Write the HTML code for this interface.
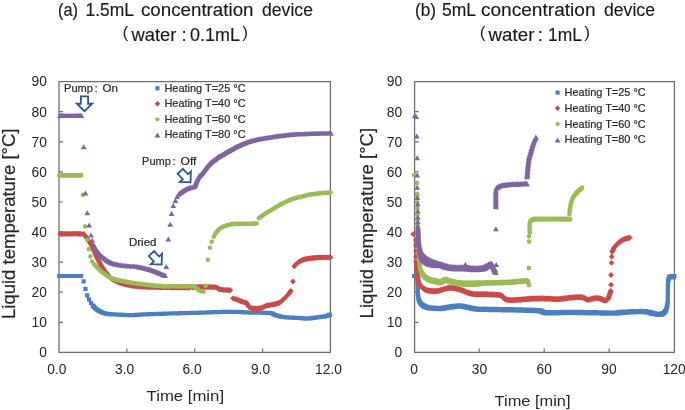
<!DOCTYPE html>
<html><head><meta charset="utf-8"><style>
html,body{margin:0;padding:0;background:#fff;}
body{width:685px;height:410px;overflow:hidden;}
svg{display:block;will-change:transform;}
text{font-family:"Liberation Sans",sans-serif;fill:#262626;}
.tt{stroke:#1a1a1a;stroke-width:0.15px;fill:#1a1a1a}
.ts{stroke:#333;stroke-width:0.22px;}
</style></head><body>
<svg width="685" height="410" viewBox="0 0 685 410">
<rect width="685" height="410" fill="#fff"/>
<rect x="59.0" y="81.6" width="271.4" height="270.79999999999995" fill="none" stroke="#717171" stroke-width="1.3"/><path d="M59.0 322.3h4M59.0 292.2h4M59.0 262.1h4M59.0 232h4M59.0 202h4M59.0 171.9h4M59.0 141.8h4M59.0 111.7h4M126.9 352.4v-4M194.7 352.4v-4M262.6 352.4v-4" stroke="#717171" stroke-width="1.2" fill="none"/><rect x="414.6" y="81.6" width="259.79999999999995" height="270.79999999999995" fill="none" stroke="#717171" stroke-width="1.3"/><path d="M414.6 322.3h4M414.6 292.2h4M414.6 262.1h4M414.6 232h4M414.6 202h4M414.6 171.9h4M414.6 141.8h4M414.6 111.7h4M479.2 352.4v-4M544.2 352.4v-4M609.2 352.4v-4" stroke="#717171" stroke-width="1.2" fill="none"/>
<path d="M57.2 273.9h4.2v4.2h-4.2zM57.9 273.9h4.2v4.2h-4.2zM58.8 273.9h4.2v4.2h-4.2zM59.8 273.9h4.2v4.2h-4.2zM61 273.9h4.2v4.2h-4.2zM62.3 273.9h4.2v4.2h-4.2zM63.7 273.9h4.2v4.2h-4.2zM65.1 273.9h4.2v4.2h-4.2zM66.6 273.9h4.2v4.2h-4.2zM68.2 273.9h4.2v4.2h-4.2zM69.7 273.9h4.2v4.2h-4.2zM71.2 273.9h4.2v4.2h-4.2zM72.6 273.9h4.2v4.2h-4.2zM74 273.9h4.2v4.2h-4.2zM75.3 273.9h4.2v4.2h-4.2zM76.5 273.9h4.2v4.2h-4.2zM77.5 273.9h4.2v4.2h-4.2zM78.4 273.9h4.2v4.2h-4.2zM79.1 273.9h4.2v4.2h-4.2zM81.5 279.3h4.2v4.2h-4.2zM83.4 286.7h4.2v4.2h-4.2zM85.1 293.2h4.2v4.2h-4.2zM86.9 297.4h4.2v4.2h-4.2zM88.9 300.9h4.2v4.2h-4.2zM90.7 303.5h4.2v4.2h-4.2zM91.2 304h4.2v4.2h-4.2zM91.9 304.8h4.2v4.2h-4.2zM92.8 305.7h4.2v4.2h-4.2zM93.7 306.6h4.2v4.2h-4.2zM94.6 307.4h4.2v4.2h-4.2zM95.5 308h4.2v4.2h-4.2zM96.4 308.6h4.2v4.2h-4.2zM97.4 309.1h4.2v4.2h-4.2zM98.4 309.6h4.2v4.2h-4.2zM99.5 310.1h4.2v4.2h-4.2zM100.6 310.5h4.2v4.2h-4.2zM101.7 310.9h4.2v4.2h-4.2zM102.9 311.3h4.2v4.2h-4.2zM104.1 311.6h4.2v4.2h-4.2zM105.3 311.8h4.2v4.2h-4.2zM106.4 312h4.2v4.2h-4.2zM107.4 312.1h4.2v4.2h-4.2zM108.5 312.1h4.2v4.2h-4.2zM109.7 312.2h4.2v4.2h-4.2zM110.9 312.2h4.2v4.2h-4.2zM112.2 312.3h4.2v4.2h-4.2zM113.3 312.4h4.2v4.2h-4.2zM114.4 312.4h4.2v4.2h-4.2zM115.6 312.5h4.2v4.2h-4.2zM116.9 312.6h4.2v4.2h-4.2zM118.1 312.6h4.2v4.2h-4.2zM119.4 312.7h4.2v4.2h-4.2zM120.7 312.7h4.2v4.2h-4.2zM121.9 312.8h4.2v4.2h-4.2zM123.1 312.9h4.2v4.2h-4.2zM124.4 312.9h4.2v4.2h-4.2zM125.7 313h4.2v4.2h-4.2zM127 313h4.2v4.2h-4.2zM128.3 313.1h4.2v4.2h-4.2zM129.5 313.1h4.2v4.2h-4.2zM130.6 313.1h4.2v4.2h-4.2zM131.7 313.1h4.2v4.2h-4.2zM132.8 313h4.2v4.2h-4.2zM133.3 312.9h4.2v4.2h-4.2zM133.9 312.8h4.2v4.2h-4.2zM135.2 312.7h4.2v4.2h-4.2zM137.9 312.5h4.2v4.2h-4.2zM138.7 312.5h4.2v4.2h-4.2zM139.5 312.4h4.2v4.2h-4.2zM140.4 312.4h4.2v4.2h-4.2zM141.4 312.3h4.2v4.2h-4.2zM142.4 312.3h4.2v4.2h-4.2zM143.5 312.3h4.2v4.2h-4.2zM144.6 312.2h4.2v4.2h-4.2zM145.7 312.2h4.2v4.2h-4.2zM146.9 312.1h4.2v4.2h-4.2zM148.2 312.1h4.2v4.2h-4.2zM149.5 312h4.2v4.2h-4.2zM150.8 312h4.2v4.2h-4.2zM152.1 311.9h4.2v4.2h-4.2zM153.4 311.9h4.2v4.2h-4.2zM154.8 311.8h4.2v4.2h-4.2zM156.1 311.8h4.2v4.2h-4.2zM157.5 311.7h4.2v4.2h-4.2zM158.8 311.7h4.2v4.2h-4.2zM160.2 311.7h4.2v4.2h-4.2zM161.5 311.6h4.2v4.2h-4.2zM162.8 311.6h4.2v4.2h-4.2zM164.1 311.5h4.2v4.2h-4.2zM165.4 311.5h4.2v4.2h-4.2zM166.7 311.4h4.2v4.2h-4.2zM167.9 311.4h4.2v4.2h-4.2zM169.1 311.4h4.2v4.2h-4.2zM170.3 311.3h4.2v4.2h-4.2zM171.6 311.3h4.2v4.2h-4.2zM172.8 311.3h4.2v4.2h-4.2zM174.1 311.2h4.2v4.2h-4.2zM175.3 311.2h4.2v4.2h-4.2zM176.6 311.2h4.2v4.2h-4.2zM177.8 311.1h4.2v4.2h-4.2zM179.1 311.1h4.2v4.2h-4.2zM180.4 311.1h4.2v4.2h-4.2zM181.6 311h4.2v4.2h-4.2zM182.9 311h4.2v4.2h-4.2zM184.1 311h4.2v4.2h-4.2zM185.4 310.9h4.2v4.2h-4.2zM186.6 310.9h4.2v4.2h-4.2zM187.8 310.9h4.2v4.2h-4.2zM189 310.8h4.2v4.2h-4.2zM190.2 310.8h4.2v4.2h-4.2zM191.4 310.8h4.2v4.2h-4.2zM192.5 310.7h4.2v4.2h-4.2zM193.7 310.7h4.2v4.2h-4.2zM194.8 310.7h4.2v4.2h-4.2zM195.8 310.7h4.2v4.2h-4.2zM196.9 310.6h4.2v4.2h-4.2zM197.9 310.6h4.2v4.2h-4.2zM199.3 310.6h4.2v4.2h-4.2zM200.7 310.5h4.2v4.2h-4.2zM202.1 310.5h4.2v4.2h-4.2zM203.4 310.4h4.2v4.2h-4.2zM204.7 310.4h4.2v4.2h-4.2zM205.9 310.3h4.2v4.2h-4.2zM207.1 310.3h4.2v4.2h-4.2zM208.3 310.2h4.2v4.2h-4.2zM209.4 310.2h4.2v4.2h-4.2zM210.5 310.1h4.2v4.2h-4.2zM211.6 310.1h4.2v4.2h-4.2zM212.7 310.1h4.2v4.2h-4.2zM213.7 310h4.2v4.2h-4.2zM214.8 310h4.2v4.2h-4.2zM215.8 310h4.2v4.2h-4.2zM216.9 309.9h4.2v4.2h-4.2zM217.9 309.9h4.2v4.2h-4.2zM219.2 309.9h4.2v4.2h-4.2zM220.5 309.8h4.2v4.2h-4.2zM221.7 309.8h4.2v4.2h-4.2zM222.9 309.8h4.2v4.2h-4.2zM224 309.7h4.2v4.2h-4.2zM225.2 309.7h4.2v4.2h-4.2zM226.3 309.7h4.2v4.2h-4.2zM227.4 309.7h4.2v4.2h-4.2zM228.4 309.7h4.2v4.2h-4.2zM229.5 309.7h4.2v4.2h-4.2zM230.6 309.7h4.2v4.2h-4.2zM231.8 309.7h4.2v4.2h-4.2zM232.9 309.7h4.2v4.2h-4.2zM234 309.7h4.2v4.2h-4.2zM235.2 309.8h4.2v4.2h-4.2zM236.3 309.8h4.2v4.2h-4.2zM237.4 309.9h4.2v4.2h-4.2zM238.4 310h4.2v4.2h-4.2zM239.5 310h4.2v4.2h-4.2zM240.6 310.1h4.2v4.2h-4.2zM241.8 310.2h4.2v4.2h-4.2zM242.9 310.3h4.2v4.2h-4.2zM244.1 310.3h4.2v4.2h-4.2zM245.3 310.4h4.2v4.2h-4.2zM246.6 310.4h4.2v4.2h-4.2zM247.9 310.5h4.2v4.2h-4.2zM249 310.5h4.2v4.2h-4.2zM250.1 310.6h4.2v4.2h-4.2zM251.3 310.6h4.2v4.2h-4.2zM252.6 310.6h4.2v4.2h-4.2zM253.9 310.6h4.2v4.2h-4.2zM255.2 310.6h4.2v4.2h-4.2zM256.5 310.6h4.2v4.2h-4.2zM257.9 310.6h4.2v4.2h-4.2zM259.2 310.6h4.2v4.2h-4.2zM260.5 310.6h4.2v4.2h-4.2zM261.7 310.7h4.2v4.2h-4.2zM263 310.7h4.2v4.2h-4.2zM264.1 310.7h4.2v4.2h-4.2zM265.2 310.7h4.2v4.2h-4.2zM266.2 310.8h4.2v4.2h-4.2zM267.1 310.8h4.2v4.2h-4.2zM267.9 310.9h4.2v4.2h-4.2zM270.1 311.3h4.2v4.2h-4.2zM271 311.8h4.2v4.2h-4.2zM271.6 312.3h4.2v4.2h-4.2zM272.9 312.9h4.2v4.2h-4.2zM273.8 313.1h4.2v4.2h-4.2zM274.7 313.4h4.2v4.2h-4.2zM275.7 313.7h4.2v4.2h-4.2zM276.7 313.9h4.2v4.2h-4.2zM277.8 314.2h4.2v4.2h-4.2zM279 314.5h4.2v4.2h-4.2zM280.2 314.7h4.2v4.2h-4.2zM281.5 314.9h4.2v4.2h-4.2zM282.9 315.1h4.2v4.2h-4.2zM283.9 315.2h4.2v4.2h-4.2zM285 315.3h4.2v4.2h-4.2zM286.2 315.4h4.2v4.2h-4.2zM287.4 315.5h4.2v4.2h-4.2zM288.7 315.5h4.2v4.2h-4.2zM289.9 315.6h4.2v4.2h-4.2zM291.2 315.6h4.2v4.2h-4.2zM292.5 315.7h4.2v4.2h-4.2zM293.7 315.7h4.2v4.2h-4.2zM294.9 315.8h4.2v4.2h-4.2zM296 315.8h4.2v4.2h-4.2zM297 315.8h4.2v4.2h-4.2zM297.9 315.9h4.2v4.2h-4.2zM299.5 316h4.2v4.2h-4.2zM300.8 316.2h4.2v4.2h-4.2zM301.8 316.3h4.2v4.2h-4.2zM302.8 316.4h4.2v4.2h-4.2zM303.8 316.5h4.2v4.2h-4.2zM304.9 316.5h4.2v4.2h-4.2zM306 316.4h4.2v4.2h-4.2zM307.1 316.3h4.2v4.2h-4.2zM308.2 316.2h4.2v4.2h-4.2zM309.3 316h4.2v4.2h-4.2zM310.4 315.8h4.2v4.2h-4.2zM311.6 315.7h4.2v4.2h-4.2zM312.9 315.5h4.2v4.2h-4.2zM314.1 315.4h4.2v4.2h-4.2zM315.4 315.2h4.2v4.2h-4.2zM316.7 315.1h4.2v4.2h-4.2zM318.1 314.9h4.2v4.2h-4.2zM319.4 314.8h4.2v4.2h-4.2zM320.7 314.6h4.2v4.2h-4.2zM321.9 314.5h4.2v4.2h-4.2zM322.9 314.3h4.2v4.2h-4.2zM324.6 313.8h4.2v4.2h-4.2zM326 313.3h4.2v4.2h-4.2zM327.1 312.8h4.2v4.2h-4.2zM327.9 312.5h4.2v4.2h-4.2zM412 273.9h4.2v4.2h-4.2zM415.3 276.3h4.2v4.2h-4.2zM415.3 278h4.2v4.2h-4.2zM415.3 277.3h4.2v4.2h-4.2zM415.3 279.2h4.2v4.2h-4.2zM415.4 278.7h4.2v4.2h-4.2zM415.4 280.7h4.2v4.2h-4.2zM415.4 280.4h4.2v4.2h-4.2zM415.4 282.5h4.2v4.2h-4.2zM415.4 282.2h4.2v4.2h-4.2zM415.5 284.3h4.2v4.2h-4.2zM415.5 284.1h4.2v4.2h-4.2zM415.5 286.1h4.2v4.2h-4.2zM415.5 285.8h4.2v4.2h-4.2zM415.6 287.8h4.2v4.2h-4.2zM415.6 287.3h4.2v4.2h-4.2zM415.6 289.4h4.2v4.2h-4.2zM415.7 289.1h4.2v4.2h-4.2zM415.7 291.2h4.2v4.2h-4.2zM415.8 290.9h4.2v4.2h-4.2zM415.9 292.9h4.2v4.2h-4.2zM415.9 292.5h4.2v4.2h-4.2zM416 294.4h4.2v4.2h-4.2zM416.1 294h4.2v4.2h-4.2zM416.2 295.8h4.2v4.2h-4.2zM416.3 295.3h4.2v4.2h-4.2zM416.5 297.5h4.2v4.2h-4.2zM416.8 297.2h4.2v4.2h-4.2zM417.1 299.2h4.2v4.2h-4.2zM417.4 298.7h4.2v4.2h-4.2zM417.7 300.6h4.2v4.2h-4.2zM418.1 300h4.2v4.2h-4.2zM418.6 301.9h4.2v4.2h-4.2zM419 301.3h4.2v4.2h-4.2zM419.6 303h4.2v4.2h-4.2zM420.2 302.3h4.2v4.2h-4.2zM420.9 304h4.2v4.2h-4.2zM421.5 303.1h4.2v4.2h-4.2zM422.2 304.7h4.2v4.2h-4.2zM422.9 303.8h4.2v4.2h-4.2zM423.6 305.3h4.2v4.2h-4.2zM424.4 304.4h4.2v4.2h-4.2zM425.1 305.9h4.2v4.2h-4.2zM425.9 304.9h4.2v4.2h-4.2zM426.7 306.3h4.2v4.2h-4.2zM427.4 305.2h4.2v4.2h-4.2zM428.2 306.5h4.2v4.2h-4.2zM428.9 305.3h4.2v4.2h-4.2zM429.8 306.6h4.2v4.2h-4.2zM430.6 305.4h4.2v4.2h-4.2zM431.5 306.7h4.2v4.2h-4.2zM432.2 305.5h4.2v4.2h-4.2zM433 306.8h4.2v4.2h-4.2zM433.7 305.7h4.2v4.2h-4.2zM434.5 306.9h4.2v4.2h-4.2zM435.4 305.7h4.2v4.2h-4.2zM436.2 307h4.2v4.2h-4.2zM437.1 305.8h4.2v4.2h-4.2zM438 307h4.2v4.2h-4.2zM438.9 305.7h4.2v4.2h-4.2zM439.6 306.8h4.2v4.2h-4.2zM440.4 305.6h4.2v4.2h-4.2zM441.2 306.7h4.2v4.2h-4.2zM442 305.3h4.2v4.2h-4.2zM442.8 306.4h4.2v4.2h-4.2zM443.6 305.1h4.2v4.2h-4.2zM444.5 306.1h4.2v4.2h-4.2zM445.3 304.8h4.2v4.2h-4.2zM446.1 305.9h4.2v4.2h-4.2zM447 304.5h4.2v4.2h-4.2zM447.8 305.6h4.2v4.2h-4.2zM448.6 304.3h4.2v4.2h-4.2zM449.4 305.4h4.2v4.2h-4.2zM450.2 304.1h4.2v4.2h-4.2zM451 305.2h4.2v4.2h-4.2zM451.8 303.8h4.2v4.2h-4.2zM452.6 304.9h4.2v4.2h-4.2zM453.4 303.6h4.2v4.2h-4.2zM454.2 304.7h4.2v4.2h-4.2zM454.9 303.4h4.2v4.2h-4.2zM455.7 304.6h4.2v4.2h-4.2zM456.4 303.3h4.2v4.2h-4.2zM457.2 304.5h4.2v4.2h-4.2zM457.9 303.3h4.2v4.2h-4.2zM458.7 304.5h4.2v4.2h-4.2zM459.6 303.4h4.2v4.2h-4.2zM460.4 304.7h4.2v4.2h-4.2zM461.2 303.7h4.2v4.2h-4.2zM461.9 305h4.2v4.2h-4.2zM462.7 304h4.2v4.2h-4.2zM463.5 305.4h4.2v4.2h-4.2zM464.2 304.4h4.2v4.2h-4.2zM465 305.7h4.2v4.2h-4.2zM465.7 304.7h4.2v4.2h-4.2zM466.5 306.1h4.2v4.2h-4.2zM467.2 305h4.2v4.2h-4.2zM468 306.4h4.2v4.2h-4.2zM468.7 305.4h4.2v4.2h-4.2zM469.4 306.8h4.2v4.2h-4.2zM470.2 305.8h4.2v4.2h-4.2zM471 307.1h4.2v4.2h-4.2zM471.9 306.1h4.2v4.2h-4.2zM472.9 307.4h4.2v4.2h-4.2zM473.5 306.3h4.2v4.2h-4.2zM474.2 307.5h4.2v4.2h-4.2zM474.8 306.4h4.2v4.2h-4.2zM475.5 307.6h4.2v4.2h-4.2zM476.1 306.4h4.2v4.2h-4.2zM476.8 307.7h4.2v4.2h-4.2zM477.5 306.5h4.2v4.2h-4.2zM478.2 307.7h4.2v4.2h-4.2zM479 306.6h4.2v4.2h-4.2zM479.9 307.8h4.2v4.2h-4.2zM480.8 306.6h4.2v4.2h-4.2zM481.7 307.8h4.2v4.2h-4.2zM482.7 306.6h4.2v4.2h-4.2zM483.8 307.9h4.2v4.2h-4.2zM485 306.7h4.2v4.2h-4.2zM485.6 307.9h4.2v4.2h-4.2zM486.2 306.7h4.2v4.2h-4.2zM486.9 307.9h4.2v4.2h-4.2zM487.6 306.8h4.2v4.2h-4.2zM488.3 308h4.2v4.2h-4.2zM489 306.8h4.2v4.2h-4.2zM489.7 308h4.2v4.2h-4.2zM490.5 306.8h4.2v4.2h-4.2zM491.2 308h4.2v4.2h-4.2zM492 306.8h4.2v4.2h-4.2zM492.8 308h4.2v4.2h-4.2zM493.6 306.8h4.2v4.2h-4.2zM494.5 308.1h4.2v4.2h-4.2zM495.3 306.9h4.2v4.2h-4.2zM496.1 308.1h4.2v4.2h-4.2zM497 306.9h4.2v4.2h-4.2zM497.8 308.1h4.2v4.2h-4.2zM498.7 306.9h4.2v4.2h-4.2zM499.5 308.1h4.2v4.2h-4.2zM500.4 306.9h4.2v4.2h-4.2zM501.2 308.2h4.2v4.2h-4.2zM502.1 307h4.2v4.2h-4.2zM502.9 308.2h4.2v4.2h-4.2zM503.8 307h4.2v4.2h-4.2zM504.6 308.2h4.2v4.2h-4.2zM505.5 307h4.2v4.2h-4.2zM506.3 308.2h4.2v4.2h-4.2zM507.1 307h4.2v4.2h-4.2zM507.9 308.3h4.2v4.2h-4.2zM508.7 307.1h4.2v4.2h-4.2zM509.5 308.3h4.2v4.2h-4.2zM510.3 307.1h4.2v4.2h-4.2zM511.2 308.3h4.2v4.2h-4.2zM512.1 307.2h4.2v4.2h-4.2zM512.9 308.4h4.2v4.2h-4.2zM513.8 307.2h4.2v4.2h-4.2zM514.7 308.4h4.2v4.2h-4.2zM515.6 307.3h4.2v4.2h-4.2zM516.5 308.5h4.2v4.2h-4.2zM517.4 307.3h4.2v4.2h-4.2zM518.3 308.5h4.2v4.2h-4.2zM519.2 307.3h4.2v4.2h-4.2zM520.1 308.6h4.2v4.2h-4.2zM521 307.4h4.2v4.2h-4.2zM521.9 308.6h4.2v4.2h-4.2zM522.8 307.5h4.2v4.2h-4.2zM523.7 308.7h4.2v4.2h-4.2zM524.5 307.5h4.2v4.2h-4.2zM525.4 308.7h4.2v4.2h-4.2zM526.2 307.6h4.2v4.2h-4.2zM527 308.8h4.2v4.2h-4.2zM527.7 307.6h4.2v4.2h-4.2zM528.5 308.8h4.2v4.2h-4.2zM529.2 307.7h4.2v4.2h-4.2zM529.9 308.9h4.2v4.2h-4.2zM530.6 307.7h4.2v4.2h-4.2zM531.2 308.9h4.2v4.2h-4.2zM531.8 307.8h4.2v4.2h-4.2zM532.4 309h4.2v4.2h-4.2zM532.9 307.8h4.2v4.2h-4.2zM534.7 309.1h4.2v4.2h-4.2zM535.8 307.9h4.2v4.2h-4.2zM536.6 309.2h4.2v4.2h-4.2zM537.1 308.1h4.2v4.2h-4.2zM537.5 309.4h4.2v4.2h-4.2zM538 308.3h4.2v4.2h-4.2zM538.7 309.6h4.2v4.2h-4.2zM539.3 308.6h4.2v4.2h-4.2zM539.8 310h4.2v4.2h-4.2zM540.1 309h4.2v4.2h-4.2zM540.6 310.5h4.2v4.2h-4.2zM541.1 309.6h4.2v4.2h-4.2zM541.9 311h4.2v4.2h-4.2zM543 310h4.2v4.2h-4.2zM544.6 311.3h4.2v4.2h-4.2zM545.1 310.1h4.2v4.2h-4.2zM545.7 311.3h4.2v4.2h-4.2zM546.3 310.1h4.2v4.2h-4.2zM546.9 311.3h4.2v4.2h-4.2zM547.6 310.1h4.2v4.2h-4.2zM548.3 311.3h4.2v4.2h-4.2zM549 310.1h4.2v4.2h-4.2zM549.8 311.3h4.2v4.2h-4.2zM550.5 310.1h4.2v4.2h-4.2zM551.3 311.3h4.2v4.2h-4.2zM552.2 310.1h4.2v4.2h-4.2zM553 311.2h4.2v4.2h-4.2zM553.9 310h4.2v4.2h-4.2zM554.7 311.2h4.2v4.2h-4.2zM555.6 310h4.2v4.2h-4.2zM556.5 311.1h4.2v4.2h-4.2zM557.4 309.9h4.2v4.2h-4.2zM558.3 311.1h4.2v4.2h-4.2zM559.2 309.9h4.2v4.2h-4.2zM560.1 311h4.2v4.2h-4.2zM561 309.8h4.2v4.2h-4.2zM561.9 311h4.2v4.2h-4.2zM562.8 309.8h4.2v4.2h-4.2zM563.7 310.9h4.2v4.2h-4.2zM564.5 309.7h4.2v4.2h-4.2zM565.4 310.9h4.2v4.2h-4.2zM566.3 309.7h4.2v4.2h-4.2zM567.1 310.9h4.2v4.2h-4.2zM567.9 309.7h4.2v4.2h-4.2zM568.7 310.9h4.2v4.2h-4.2zM569.5 309.7h4.2v4.2h-4.2zM570.3 310.9h4.2v4.2h-4.2zM571.1 309.7h4.2v4.2h-4.2zM572 310.9h4.2v4.2h-4.2zM572.8 309.7h4.2v4.2h-4.2zM573.6 310.9h4.2v4.2h-4.2zM574.4 309.8h4.2v4.2h-4.2zM575.2 311h4.2v4.2h-4.2zM576.1 309.8h4.2v4.2h-4.2zM576.9 311h4.2v4.2h-4.2zM577.7 309.8h4.2v4.2h-4.2zM578.5 311h4.2v4.2h-4.2zM579.3 309.8h4.2v4.2h-4.2zM580.2 311.1h4.2v4.2h-4.2zM581 309.9h4.2v4.2h-4.2zM581.8 311.1h4.2v4.2h-4.2zM582.6 309.9h4.2v4.2h-4.2zM583.4 311.1h4.2v4.2h-4.2zM584.2 310h4.2v4.2h-4.2zM585 311.2h4.2v4.2h-4.2zM585.8 310h4.2v4.2h-4.2zM586.6 311.2h4.2v4.2h-4.2zM587.4 310h4.2v4.2h-4.2zM588.2 311.2h4.2v4.2h-4.2zM589 310.1h4.2v4.2h-4.2zM589.8 311.3h4.2v4.2h-4.2zM590.5 310.1h4.2v4.2h-4.2zM591.3 311.3h4.2v4.2h-4.2zM592.2 310.1h4.2v4.2h-4.2zM593 311.3h4.2v4.2h-4.2zM593.9 310.1h4.2v4.2h-4.2zM594.8 311.4h4.2v4.2h-4.2zM595.7 310.2h4.2v4.2h-4.2zM596.5 311.4h4.2v4.2h-4.2zM597.4 310.2h4.2v4.2h-4.2zM598.3 311.4h4.2v4.2h-4.2zM599.2 310.3h4.2v4.2h-4.2zM600.1 311.5h4.2v4.2h-4.2zM600.9 310.3h4.2v4.2h-4.2zM601.8 311.5h4.2v4.2h-4.2zM602.6 310.3h4.2v4.2h-4.2zM603.5 311.5h4.2v4.2h-4.2zM604.3 310.4h4.2v4.2h-4.2zM605.1 311.6h4.2v4.2h-4.2zM605.9 310.4h4.2v4.2h-4.2zM606.7 311.6h4.2v4.2h-4.2zM607.5 310.4h4.2v4.2h-4.2zM608.3 311.6h4.2v4.2h-4.2zM609 310.4h4.2v4.2h-4.2zM609.7 311.6h4.2v4.2h-4.2zM610.4 310.4h4.2v4.2h-4.2zM611.1 311.6h4.2v4.2h-4.2zM611.7 310.4h4.2v4.2h-4.2zM612.3 311.6h4.2v4.2h-4.2zM613.4 310.4h4.2v4.2h-4.2zM614.3 311.5h4.2v4.2h-4.2zM615.2 310.3h4.2v4.2h-4.2zM615.9 311.4h4.2v4.2h-4.2zM616.5 310.1h4.2v4.2h-4.2zM617.1 311.2h4.2v4.2h-4.2zM617.7 310h4.2v4.2h-4.2zM618.3 311.1h4.2v4.2h-4.2zM618.9 309.8h4.2v4.2h-4.2zM619.6 310.9h4.2v4.2h-4.2zM620.3 309.6h4.2v4.2h-4.2zM621.2 310.8h4.2v4.2h-4.2zM622.3 309.5h4.2v4.2h-4.2zM622.9 310.7h4.2v4.2h-4.2zM623.6 309.4h4.2v4.2h-4.2zM624.3 310.6h4.2v4.2h-4.2zM625.1 309.4h4.2v4.2h-4.2zM625.9 310.5h4.2v4.2h-4.2zM626.7 309.3h4.2v4.2h-4.2zM627.6 310.4h4.2v4.2h-4.2zM628.5 309.2h4.2v4.2h-4.2zM629.3 310.3h4.2v4.2h-4.2zM630.2 309.1h4.2v4.2h-4.2zM631.2 310.3h4.2v4.2h-4.2zM632.1 309h4.2v4.2h-4.2zM633 310.2h4.2v4.2h-4.2zM633.9 309h4.2v4.2h-4.2zM634.8 310.1h4.2v4.2h-4.2zM635.7 308.9h4.2v4.2h-4.2zM636.5 310.1h4.2v4.2h-4.2zM637.4 308.9h4.2v4.2h-4.2zM638.2 310.1h4.2v4.2h-4.2zM639 308.8h4.2v4.2h-4.2zM639.8 310h4.2v4.2h-4.2zM640.5 308.9h4.2v4.2h-4.2zM641.2 310.1h4.2v4.2h-4.2zM641.8 308.9h4.2v4.2h-4.2zM642.9 310.2h4.2v4.2h-4.2zM643.9 309.1h4.2v4.2h-4.2zM644.8 310.4h4.2v4.2h-4.2zM645.6 309.4h4.2v4.2h-4.2zM646.4 310.7h4.2v4.2h-4.2zM647.1 309.7h4.2v4.2h-4.2zM647.8 311.1h4.2v4.2h-4.2zM648.5 310.1h4.2v4.2h-4.2zM649.1 311.5h4.2v4.2h-4.2zM649.7 310.5h4.2v4.2h-4.2zM650.3 311.8h4.2v4.2h-4.2zM651 310.8h4.2v4.2h-4.2zM651.6 312.1h4.2v4.2h-4.2zM652.5 311.1h4.2v4.2h-4.2zM653.4 312.4h4.2v4.2h-4.2zM654.3 311.4h4.2v4.2h-4.2zM655.2 312.7h4.2v4.2h-4.2zM656 311.6h4.2v4.2h-4.2zM656.8 312.9h4.2v4.2h-4.2zM657.5 311.7h4.2v4.2h-4.2zM658.2 312.9h4.2v4.2h-4.2zM658.9 311.6h4.2v4.2h-4.2zM659.7 312.6h4.2v4.2h-4.2zM660.5 311.1h4.2v4.2h-4.2zM661.2 311.9h4.2v4.2h-4.2zM661.8 310.3h4.2v4.2h-4.2zM662.4 310.9h4.2v4.2h-4.2zM662.9 309.1h4.2v4.2h-4.2zM663.4 309.5h4.2v4.2h-4.2zM663.7 307.7h4.2v4.2h-4.2zM664 308.2h4.2v4.2h-4.2zM664.3 306.3h4.2v4.2h-4.2zM664.5 306.8h4.2v4.2h-4.2zM664.7 304.8h4.2v4.2h-4.2zM664.9 305.1h4.2v4.2h-4.2zM665.1 303.1h4.2v4.2h-4.2zM665.2 303.4h4.2v4.2h-4.2zM665.4 301.2h4.2v4.2h-4.2zM665.5 301.5h4.2v4.2h-4.2zM665.6 299.6h4.2v4.2h-4.2zM665.6 300.1h4.2v4.2h-4.2zM665.7 298.1h4.2v4.2h-4.2zM665.7 298.6h4.2v4.2h-4.2zM665.7 296.6h4.2v4.2h-4.2zM665.7 297h4.2v4.2h-4.2zM665.7 295h4.2v4.2h-4.2zM665.7 295.4h4.2v4.2h-4.2zM665.7 293.4h4.2v4.2h-4.2zM665.7 293.7h4.2v4.2h-4.2zM665.7 291.7h4.2v4.2h-4.2zM665.7 292.1h4.2v4.2h-4.2zM665.7 290.1h4.2v4.2h-4.2zM665.7 290.5h4.2v4.2h-4.2zM665.7 288.5h4.2v4.2h-4.2zM665.7 288.9h4.2v4.2h-4.2zM665.8 286.8h4.2v4.2h-4.2zM665.8 287.1h4.2v4.2h-4.2zM665.8 285.1h4.2v4.2h-4.2zM665.8 285.4h4.2v4.2h-4.2zM665.8 283.3h4.2v4.2h-4.2zM665.9 283.7h4.2v4.2h-4.2zM665.9 281.7h4.2v4.2h-4.2zM665.9 282.1h4.2v4.2h-4.2zM666 280.2h4.2v4.2h-4.2zM666 280.7h4.2v4.2h-4.2zM666 278.9h4.2v4.2h-4.2zM666.1 279.5h4.2v4.2h-4.2zM666.3 277h4.2v4.2h-4.2zM666.5 277.3h4.2v4.2h-4.2zM666.8 275.5h4.2v4.2h-4.2zM667 276.2h4.2v4.2h-4.2zM667.4 274.6h4.2v4.2h-4.2zM668.1 275.3h4.2v4.2h-4.2zM669 274h4.2v4.2h-4.2zM669.9 275.2h4.2v4.2h-4.2zM670.8 274h4.2v4.2h-4.2zM671.7 275.2h4.2v4.2h-4.2zM672.3 274h4.2v4.2h-4.2z" fill="#4a7fc2"/><path d="M60 231l2.9 2.9-2.9 2.9-2.9-2.9 zM60.6 230.9l2.9 2.9-2.9 2.9-2.9-2.9 zM61.4 230.9l2.9 2.9-2.9 2.9-2.9-2.9 zM62.3 230.9l2.9 2.9-2.9 2.9-2.9-2.9 zM63.3 230.9l2.9 2.9-2.9 2.9-2.9-2.9 zM64.5 230.9l2.9 2.9-2.9 2.9-2.9-2.9 zM65.7 230.9l2.9 2.9-2.9 2.9-2.9-2.9 zM66.9 230.9l2.9 2.9-2.9 2.9-2.9-2.9 zM68.3 230.9l2.9 2.9-2.9 2.9-2.9-2.9 zM69.6 230.9l2.9 2.9-2.9 2.9-2.9-2.9 zM71 230.9l2.9 2.9-2.9 2.9-2.9-2.9 zM72.3 230.9l2.9 2.9-2.9 2.9-2.9-2.9 zM73.6 230.8l2.9 2.9-2.9 2.9-2.9-2.9 zM74.9 230.8l2.9 2.9-2.9 2.9-2.9-2.9 zM76.2 230.8l2.9 2.9-2.9 2.9-2.9-2.9 zM77.4 230.9l2.9 2.9-2.9 2.9-2.9-2.9 zM78.4 230.9l2.9 2.9-2.9 2.9-2.9-2.9 zM79.4 230.9l2.9 2.9-2.9 2.9-2.9-2.9 zM80.3 230.9l2.9 2.9-2.9 2.9-2.9-2.9 zM81 231l2.9 2.9-2.9 2.9-2.9-2.9 zM83.1 231.1l2.9 2.9-2.9 2.9-2.9-2.9 zM83.9 231.3l2.9 2.9-2.9 2.9-2.9-2.9 zM84.1 231.7l2.9 2.9-2.9 2.9-2.9-2.9 zM84.6 232.3l2.9 2.9-2.9 2.9-2.9-2.9 zM85.2 233l2.9 2.9-2.9 2.9-2.9-2.9 zM85.9 233.8l2.9 2.9-2.9 2.9-2.9-2.9 zM86.5 234.8l2.9 2.9-2.9 2.9-2.9-2.9 zM87.1 235.7l2.9 2.9-2.9 2.9-2.9-2.9 zM87.7 236.7l2.9 2.9-2.9 2.9-2.9-2.9 zM88.3 237.6l2.9 2.9-2.9 2.9-2.9-2.9 zM88.9 238.5l2.9 2.9-2.9 2.9-2.9-2.9 zM89.6 239.4l2.9 2.9-2.9 2.9-2.9-2.9 zM90.2 240.2l2.9 2.9-2.9 2.9-2.9-2.9 zM90.7 241.1l2.9 2.9-2.9 2.9-2.9-2.9 zM91.2 242l2.9 2.9-2.9 2.9-2.9-2.9 zM91.7 243l2.9 2.9-2.9 2.9-2.9-2.9 zM92.2 244.1l2.9 2.9-2.9 2.9-2.9-2.9 zM92.7 245.2l2.9 2.9-2.9 2.9-2.9-2.9 zM93.1 246.2l2.9 2.9-2.9 2.9-2.9-2.9 zM93.6 247l2.9 2.9-2.9 2.9-2.9-2.9 zM94 247.9l2.9 2.9-2.9 2.9-2.9-2.9 zM94.4 248.7l2.9 2.9-2.9 2.9-2.9-2.9 zM94.9 249.7l2.9 2.9-2.9 2.9-2.9-2.9 zM95.3 250.5l2.9 2.9-2.9 2.9-2.9-2.9 zM95.6 251.5l2.9 2.9-2.9 2.9-2.9-2.9 zM96 252.4l2.9 2.9-2.9 2.9-2.9-2.9 zM96.4 253.4l2.9 2.9-2.9 2.9-2.9-2.9 zM96.8 254.3l2.9 2.9-2.9 2.9-2.9-2.9 zM97.3 255.4l2.9 2.9-2.9 2.9-2.9-2.9 zM97.9 256.5l2.9 2.9-2.9 2.9-2.9-2.9 zM98.4 257.5l2.9 2.9-2.9 2.9-2.9-2.9 zM99 258.5l2.9 2.9-2.9 2.9-2.9-2.9 zM99.5 259.6l2.9 2.9-2.9 2.9-2.9-2.9 zM100.1 260.6l2.9 2.9-2.9 2.9-2.9-2.9 zM100.6 261.7l2.9 2.9-2.9 2.9-2.9-2.9 zM101.2 262.8l2.9 2.9-2.9 2.9-2.9-2.9 zM101.7 263.6l2.9 2.9-2.9 2.9-2.9-2.9 zM102.3 264.5l2.9 2.9-2.9 2.9-2.9-2.9 zM102.9 265.4l2.9 2.9-2.9 2.9-2.9-2.9 zM103.5 266.2l2.9 2.9-2.9 2.9-2.9-2.9 zM104.1 267l2.9 2.9-2.9 2.9-2.9-2.9 zM104.8 268l2.9 2.9-2.9 2.9-2.9-2.9 zM105.5 268.8l2.9 2.9-2.9 2.9-2.9-2.9 zM106.2 269.7l2.9 2.9-2.9 2.9-2.9-2.9 zM107 270.6l2.9 2.9-2.9 2.9-2.9-2.9 zM107.6 271.4l2.9 2.9-2.9 2.9-2.9-2.9 zM108.2 272.3l2.9 2.9-2.9 2.9-2.9-2.9 zM108.8 273.2l2.9 2.9-2.9 2.9-2.9-2.9 zM109.6 274.1l2.9 2.9-2.9 2.9-2.9-2.9 zM110.4 274.9l2.9 2.9-2.9 2.9-2.9-2.9 zM111.4 275.8l2.9 2.9-2.9 2.9-2.9-2.9 zM112.2 276.3l2.9 2.9-2.9 2.9-2.9-2.9 zM113 276.8l2.9 2.9-2.9 2.9-2.9-2.9 zM113.9 277.3l2.9 2.9-2.9 2.9-2.9-2.9 zM114.9 277.8l2.9 2.9-2.9 2.9-2.9-2.9 zM115.9 278.2l2.9 2.9-2.9 2.9-2.9-2.9 zM117 278.7l2.9 2.9-2.9 2.9-2.9-2.9 zM118 279.1l2.9 2.9-2.9 2.9-2.9-2.9 zM119.1 279.6l2.9 2.9-2.9 2.9-2.9-2.9 zM120.1 279.9l2.9 2.9-2.9 2.9-2.9-2.9 zM121.1 280.3l2.9 2.9-2.9 2.9-2.9-2.9 zM122.2 280.6l2.9 2.9-2.9 2.9-2.9-2.9 zM123.3 281l2.9 2.9-2.9 2.9-2.9-2.9 zM124.4 281.2l2.9 2.9-2.9 2.9-2.9-2.9 zM125.5 281.5l2.9 2.9-2.9 2.9-2.9-2.9 zM126.6 281.8l2.9 2.9-2.9 2.9-2.9-2.9 zM127.8 282l2.9 2.9-2.9 2.9-2.9-2.9 zM128.9 282.2l2.9 2.9-2.9 2.9-2.9-2.9 zM130 282.4l2.9 2.9-2.9 2.9-2.9-2.9 zM131.1 282.6l2.9 2.9-2.9 2.9-2.9-2.9 zM132 282.8l2.9 2.9-2.9 2.9-2.9-2.9 zM133 283l2.9 2.9-2.9 2.9-2.9-2.9 zM133.9 283.1l2.9 2.9-2.9 2.9-2.9-2.9 zM134.9 283.2l2.9 2.9-2.9 2.9-2.9-2.9 zM135.9 283.3l2.9 2.9-2.9 2.9-2.9-2.9 zM137.1 283.4l2.9 2.9-2.9 2.9-2.9-2.9 zM138.4 283.5l2.9 2.9-2.9 2.9-2.9-2.9 zM140 283.6l2.9 2.9-2.9 2.9-2.9-2.9 zM140.8 283.7l2.9 2.9-2.9 2.9-2.9-2.9 zM141.7 283.8l2.9 2.9-2.9 2.9-2.9-2.9 zM142.6 283.8l2.9 2.9-2.9 2.9-2.9-2.9 zM143.6 283.9l2.9 2.9-2.9 2.9-2.9-2.9 zM144.6 283.9l2.9 2.9-2.9 2.9-2.9-2.9 zM145.6 284l2.9 2.9-2.9 2.9-2.9-2.9 zM146.6 284l2.9 2.9-2.9 2.9-2.9-2.9 zM147.7 284.1l2.9 2.9-2.9 2.9-2.9-2.9 zM148.8 284.1l2.9 2.9-2.9 2.9-2.9-2.9 zM149.9 284.2l2.9 2.9-2.9 2.9-2.9-2.9 zM151 284.2l2.9 2.9-2.9 2.9-2.9-2.9 zM152.2 284.2l2.9 2.9-2.9 2.9-2.9-2.9 zM153.4 284.3l2.9 2.9-2.9 2.9-2.9-2.9 zM154.7 284.3l2.9 2.9-2.9 2.9-2.9-2.9 zM156 284.4l2.9 2.9-2.9 2.9-2.9-2.9 zM157.3 284.4l2.9 2.9-2.9 2.9-2.9-2.9 zM158.6 284.4l2.9 2.9-2.9 2.9-2.9-2.9 zM160 284.4l2.9 2.9-2.9 2.9-2.9-2.9 zM161 284.5l2.9 2.9-2.9 2.9-2.9-2.9 zM162 284.5l2.9 2.9-2.9 2.9-2.9-2.9 zM163 284.5l2.9 2.9-2.9 2.9-2.9-2.9 zM164.1 284.5l2.9 2.9-2.9 2.9-2.9-2.9 zM165.3 284.5l2.9 2.9-2.9 2.9-2.9-2.9 zM166.4 284.5l2.9 2.9-2.9 2.9-2.9-2.9 zM167.6 284.5l2.9 2.9-2.9 2.9-2.9-2.9 zM168.9 284.5l2.9 2.9-2.9 2.9-2.9-2.9 zM170.1 284.6l2.9 2.9-2.9 2.9-2.9-2.9 zM171.4 284.6l2.9 2.9-2.9 2.9-2.9-2.9 zM172.6 284.6l2.9 2.9-2.9 2.9-2.9-2.9 zM173.9 284.6l2.9 2.9-2.9 2.9-2.9-2.9 zM175.2 284.6l2.9 2.9-2.9 2.9-2.9-2.9 zM176.4 284.6l2.9 2.9-2.9 2.9-2.9-2.9 zM177.7 284.6l2.9 2.9-2.9 2.9-2.9-2.9 zM178.9 284.6l2.9 2.9-2.9 2.9-2.9-2.9 zM180.1 284.6l2.9 2.9-2.9 2.9-2.9-2.9 zM181.3 284.6l2.9 2.9-2.9 2.9-2.9-2.9 zM182.5 284.6l2.9 2.9-2.9 2.9-2.9-2.9 zM183.6 284.6l2.9 2.9-2.9 2.9-2.9-2.9 zM184.7 284.6l2.9 2.9-2.9 2.9-2.9-2.9 zM185.7 284.6l2.9 2.9-2.9 2.9-2.9-2.9 zM186.7 284.6l2.9 2.9-2.9 2.9-2.9-2.9 zM187.6 284.6l2.9 2.9-2.9 2.9-2.9-2.9 zM188.5 284.6l2.9 2.9-2.9 2.9-2.9-2.9 zM189.3 284.6l2.9 2.9-2.9 2.9-2.9-2.9 zM190 284.5l2.9 2.9-2.9 2.9-2.9-2.9 zM192.4 284.5l2.9 2.9-2.9 2.9-2.9-2.9 zM193.6 284.4l2.9 2.9-2.9 2.9-2.9-2.9 zM194.2 284.3l2.9 2.9-2.9 2.9-2.9-2.9 zM194.7 284.3l2.9 2.9-2.9 2.9-2.9-2.9 zM195.5 284.2l2.9 2.9-2.9 2.9-2.9-2.9 zM197 284.1l2.9 2.9-2.9 2.9-2.9-2.9 zM197.8 284.1l2.9 2.9-2.9 2.9-2.9-2.9 zM198.8 284.1l2.9 2.9-2.9 2.9-2.9-2.9 zM199.9 284.1l2.9 2.9-2.9 2.9-2.9-2.9 zM201 284.1l2.9 2.9-2.9 2.9-2.9-2.9 zM202.2 284.1l2.9 2.9-2.9 2.9-2.9-2.9 zM203.5 284.1l2.9 2.9-2.9 2.9-2.9-2.9 zM204.8 284.1l2.9 2.9-2.9 2.9-2.9-2.9 zM206.1 284.1l2.9 2.9-2.9 2.9-2.9-2.9 zM207.4 284.1l2.9 2.9-2.9 2.9-2.9-2.9 zM208.7 284.1l2.9 2.9-2.9 2.9-2.9-2.9 zM210 284.1l2.9 2.9-2.9 2.9-2.9-2.9 zM211.2 284.2l2.9 2.9-2.9 2.9-2.9-2.9 zM212.3 284.2l2.9 2.9-2.9 2.9-2.9-2.9 zM213.3 284.2l2.9 2.9-2.9 2.9-2.9-2.9 zM214.2 284.3l2.9 2.9-2.9 2.9-2.9-2.9 zM215 284.3l2.9 2.9-2.9 2.9-2.9-2.9 zM216.7 284.7l2.9 2.9-2.9 2.9-2.9-2.9 zM217.7 285.1l2.9 2.9-2.9 2.9-2.9-2.9 zM218.2 285.6l2.9 2.9-2.9 2.9-2.9-2.9 zM218.9 286.1l2.9 2.9-2.9 2.9-2.9-2.9 zM220 286.4l2.9 2.9-2.9 2.9-2.9-2.9 zM221 286.6l2.9 2.9-2.9 2.9-2.9-2.9 zM222.1 286.7l2.9 2.9-2.9 2.9-2.9-2.9 zM223.4 286.9l2.9 2.9-2.9 2.9-2.9-2.9 zM224.8 287l2.9 2.9-2.9 2.9-2.9-2.9 zM226.1 287.1l2.9 2.9-2.9 2.9-2.9-2.9 zM227.4 287.2l2.9 2.9-2.9 2.9-2.9-2.9 zM228.6 287.2l2.9 2.9-2.9 2.9-2.9-2.9 zM229.6 287.3l2.9 2.9-2.9 2.9-2.9-2.9 zM230.3 287.3l2.9 2.9-2.9 2.9-2.9-2.9 zM233 295.4l2.9 2.9-2.9 2.9-2.9-2.9 zM233.9 295.7l2.9 2.9-2.9 2.9-2.9-2.9 zM235.1 296.1l2.9 2.9-2.9 2.9-2.9-2.9 zM236.5 296.5l2.9 2.9-2.9 2.9-2.9-2.9 zM237.4 296.9l2.9 2.9-2.9 2.9-2.9-2.9 zM238.3 297.3l2.9 2.9-2.9 2.9-2.9-2.9 zM239.3 297.7l2.9 2.9-2.9 2.9-2.9-2.9 zM240.4 298.1l2.9 2.9-2.9 2.9-2.9-2.9 zM241.4 298.5l2.9 2.9-2.9 2.9-2.9-2.9 zM242.5 298.9l2.9 2.9-2.9 2.9-2.9-2.9 zM243.7 299.2l2.9 2.9-2.9 2.9-2.9-2.9 zM244.9 299.5l2.9 2.9-2.9 2.9-2.9-2.9 zM246 299.9l2.9 2.9-2.9 2.9-2.9-2.9 zM246.9 300.3l2.9 2.9-2.9 2.9-2.9-2.9 zM247.6 301.2l2.9 2.9-2.9 2.9-2.9-2.9 zM247.9 302.3l2.9 2.9-2.9 2.9-2.9-2.9 zM248.3 303.3l2.9 2.9-2.9 2.9-2.9-2.9 zM249.1 304.1l2.9 2.9-2.9 2.9-2.9-2.9 zM250 304.6l2.9 2.9-2.9 2.9-2.9-2.9 zM251 304.9l2.9 2.9-2.9 2.9-2.9-2.9 zM252.2 305.2l2.9 2.9-2.9 2.9-2.9-2.9 zM253.4 305.4l2.9 2.9-2.9 2.9-2.9-2.9 zM254.6 305.5l2.9 2.9-2.9 2.9-2.9-2.9 zM255.7 305.6l2.9 2.9-2.9 2.9-2.9-2.9 zM256.9 305.7l2.9 2.9-2.9 2.9-2.9-2.9 zM257.9 305.6l2.9 2.9-2.9 2.9-2.9-2.9 zM259 305.5l2.9 2.9-2.9 2.9-2.9-2.9 zM260 305.3l2.9 2.9-2.9 2.9-2.9-2.9 zM261.1 305l2.9 2.9-2.9 2.9-2.9-2.9 zM262.2 304.7l2.9 2.9-2.9 2.9-2.9-2.9 zM263.3 304.2l2.9 2.9-2.9 2.9-2.9-2.9 zM264.4 303.7l2.9 2.9-2.9 2.9-2.9-2.9 zM265.5 303.2l2.9 2.9-2.9 2.9-2.9-2.9 zM266.6 302.8l2.9 2.9-2.9 2.9-2.9-2.9 zM267.7 302.6l2.9 2.9-2.9 2.9-2.9-2.9 zM268.7 302.4l2.9 2.9-2.9 2.9-2.9-2.9 zM269.8 302.2l2.9 2.9-2.9 2.9-2.9-2.9 zM270.9 302l2.9 2.9-2.9 2.9-2.9-2.9 zM272.1 301.8l2.9 2.9-2.9 2.9-2.9-2.9 zM273.2 301.5l2.9 2.9-2.9 2.9-2.9-2.9 zM274.3 301.3l2.9 2.9-2.9 2.9-2.9-2.9 zM275.5 301.1l2.9 2.9-2.9 2.9-2.9-2.9 zM276.6 300.8l2.9 2.9-2.9 2.9-2.9-2.9 zM277.7 300.5l2.9 2.9-2.9 2.9-2.9-2.9 zM278.7 300.1l2.9 2.9-2.9 2.9-2.9-2.9 zM279.7 299.6l2.9 2.9-2.9 2.9-2.9-2.9 zM280.6 299l2.9 2.9-2.9 2.9-2.9-2.9 zM281.4 298.3l2.9 2.9-2.9 2.9-2.9-2.9 zM282.2 297.6l2.9 2.9-2.9 2.9-2.9-2.9 zM283 296.8l2.9 2.9-2.9 2.9-2.9-2.9 zM283.7 296.2l2.9 2.9-2.9 2.9-2.9-2.9 zM284.5 295.5l2.9 2.9-2.9 2.9-2.9-2.9 zM285.3 294.7l2.9 2.9-2.9 2.9-2.9-2.9 zM286 293.9l2.9 2.9-2.9 2.9-2.9-2.9 zM286.7 293.2l2.9 2.9-2.9 2.9-2.9-2.9 zM287.4 292.4l2.9 2.9-2.9 2.9-2.9-2.9 zM288.2 291.5l2.9 2.9-2.9 2.9-2.9-2.9 zM289 290.5l2.9 2.9-2.9 2.9-2.9-2.9 zM289.7 289.6l2.9 2.9-2.9 2.9-2.9-2.9 zM290.3 288.7l2.9 2.9-2.9 2.9-2.9-2.9 zM290.7 288.1l2.9 2.9-2.9 2.9-2.9-2.9 zM292.9 278.6l2.9 2.9-2.9 2.9-2.9-2.9 zM294.3 263.4l2.9 2.9-2.9 2.9-2.9-2.9 zM294.7 262.9l2.9 2.9-2.9 2.9-2.9-2.9 zM295.4 262.2l2.9 2.9-2.9 2.9-2.9-2.9 zM296.1 261.3l2.9 2.9-2.9 2.9-2.9-2.9 zM297 260.5l2.9 2.9-2.9 2.9-2.9-2.9 zM297.7 260l2.9 2.9-2.9 2.9-2.9-2.9 zM298.5 259.3l2.9 2.9-2.9 2.9-2.9-2.9 zM299.4 258.7l2.9 2.9-2.9 2.9-2.9-2.9 zM300.3 258.2l2.9 2.9-2.9 2.9-2.9-2.9 zM301.3 257.6l2.9 2.9-2.9 2.9-2.9-2.9 zM302.2 257.3l2.9 2.9-2.9 2.9-2.9-2.9 zM303.1 256.9l2.9 2.9-2.9 2.9-2.9-2.9 zM304.1 256.6l2.9 2.9-2.9 2.9-2.9-2.9 zM305.1 256.3l2.9 2.9-2.9 2.9-2.9-2.9 zM306.1 256.1l2.9 2.9-2.9 2.9-2.9-2.9 zM307.2 255.8l2.9 2.9-2.9 2.9-2.9-2.9 zM308.2 255.7l2.9 2.9-2.9 2.9-2.9-2.9 zM309.2 255.5l2.9 2.9-2.9 2.9-2.9-2.9 zM310.2 255.4l2.9 2.9-2.9 2.9-2.9-2.9 zM311.3 255.3l2.9 2.9-2.9 2.9-2.9-2.9 zM312.4 255.2l2.9 2.9-2.9 2.9-2.9-2.9 zM313.4 255.1l2.9 2.9-2.9 2.9-2.9-2.9 zM314.5 255l2.9 2.9-2.9 2.9-2.9-2.9 zM315.5 254.9l2.9 2.9-2.9 2.9-2.9-2.9 zM316.5 254.8l2.9 2.9-2.9 2.9-2.9-2.9 zM317.5 254.7l2.9 2.9-2.9 2.9-2.9-2.9 zM318.6 254.7l2.9 2.9-2.9 2.9-2.9-2.9 zM319.6 254.6l2.9 2.9-2.9 2.9-2.9-2.9 zM320.7 254.5l2.9 2.9-2.9 2.9-2.9-2.9 zM321.8 254.5l2.9 2.9-2.9 2.9-2.9-2.9 zM322.9 254.4l2.9 2.9-2.9 2.9-2.9-2.9 zM324.1 254.4l2.9 2.9-2.9 2.9-2.9-2.9 zM325.4 254.4l2.9 2.9-2.9 2.9-2.9-2.9 zM326.7 254.4l2.9 2.9-2.9 2.9-2.9-2.9 zM327.9 254.4l2.9 2.9-2.9 2.9-2.9-2.9 zM329 254.4l2.9 2.9-2.9 2.9-2.9-2.9 zM329.9 254.4l2.9 2.9-2.9 2.9-2.9-2.9 zM330.6 254.5l2.9 2.9-2.9 2.9-2.9-2.9 zM413.2 231.2l2.9 2.9-2.9 2.9-2.9-2.9 zM415.8 237.2l2.9 2.9-2.9 2.9-2.9-2.9 zM415.9 242.7l2.9 2.9-2.9 2.9-2.9-2.9 zM416 248.2l2.9 2.9-2.9 2.9-2.9-2.9 zM416 253.7l2.9 2.9-2.9 2.9-2.9-2.9 zM416.1 259.1l2.9 2.9-2.9 2.9-2.9-2.9 zM416.6 262.3l2.9 2.9-2.9 2.9-2.9-2.9 zM416.7 263.5l2.9 2.9-2.9 2.9-2.9-2.9 zM416.8 263.4l2.9 2.9-2.9 2.9-2.9-2.9 zM416.9 264.9l2.9 2.9-2.9 2.9-2.9-2.9 zM417.1 265l2.9 2.9-2.9 2.9-2.9-2.9 zM417.2 266.6l2.9 2.9-2.9 2.9-2.9-2.9 zM417.3 266.8l2.9 2.9-2.9 2.9-2.9-2.9 zM417.4 268.2l2.9 2.9-2.9 2.9-2.9-2.9 zM417.4 268.2l2.9 2.9-2.9 2.9-2.9-2.9 zM417.5 269.7l2.9 2.9-2.9 2.9-2.9-2.9 zM417.5 269.8l2.9 2.9-2.9 2.9-2.9-2.9 zM417.5 271.3l2.9 2.9-2.9 2.9-2.9-2.9 zM417.6 271.3l2.9 2.9-2.9 2.9-2.9-2.9 zM417.6 272.8l2.9 2.9-2.9 2.9-2.9-2.9 zM417.7 272.8l2.9 2.9-2.9 2.9-2.9-2.9 zM417.8 274.4l2.9 2.9-2.9 2.9-2.9-2.9 zM417.9 274.6l2.9 2.9-2.9 2.9-2.9-2.9 zM417.9 276.2l2.9 2.9-2.9 2.9-2.9-2.9 zM418 276.3l2.9 2.9-2.9 2.9-2.9-2.9 zM418.2 277.8l2.9 2.9-2.9 2.9-2.9-2.9 zM418.3 277.8l2.9 2.9-2.9 2.9-2.9-2.9 zM418.5 279.3l2.9 2.9-2.9 2.9-2.9-2.9 zM418.7 279.4l2.9 2.9-2.9 2.9-2.9-2.9 zM418.9 280.8l2.9 2.9-2.9 2.9-2.9-2.9 zM419.2 280.7l2.9 2.9-2.9 2.9-2.9-2.9 zM419.6 282.1l2.9 2.9-2.9 2.9-2.9-2.9 zM420.1 282.1l2.9 2.9-2.9 2.9-2.9-2.9 zM420.7 283.4l2.9 2.9-2.9 2.9-2.9-2.9 zM421.3 283.3l2.9 2.9-2.9 2.9-2.9-2.9 zM422 284.6l2.9 2.9-2.9 2.9-2.9-2.9 zM422.6 284.4l2.9 2.9-2.9 2.9-2.9-2.9 zM423.3 285.7l2.9 2.9-2.9 2.9-2.9-2.9 zM424 285.6l2.9 2.9-2.9 2.9-2.9-2.9 zM424.7 286.8l2.9 2.9-2.9 2.9-2.9-2.9 zM425.5 286.5l2.9 2.9-2.9 2.9-2.9-2.9 zM426.1 287.5l2.9 2.9-2.9 2.9-2.9-2.9 zM426.8 287l2.9 2.9-2.9 2.9-2.9-2.9 zM427.5 287.9l2.9 2.9-2.9 2.9-2.9-2.9 zM428.3 287.3l2.9 2.9-2.9 2.9-2.9-2.9 zM429.1 288.2l2.9 2.9-2.9 2.9-2.9-2.9 zM430 287.6l2.9 2.9-2.9 2.9-2.9-2.9 zM430.7 288.4l2.9 2.9-2.9 2.9-2.9-2.9 zM431.4 287.7l2.9 2.9-2.9 2.9-2.9-2.9 zM432.2 288.5l2.9 2.9-2.9 2.9-2.9-2.9 zM433 287.8l2.9 2.9-2.9 2.9-2.9-2.9 zM433.9 288.6l2.9 2.9-2.9 2.9-2.9-2.9 zM434.7 287.9l2.9 2.9-2.9 2.9-2.9-2.9 zM435.5 288.6l2.9 2.9-2.9 2.9-2.9-2.9 zM436.3 287.8l2.9 2.9-2.9 2.9-2.9-2.9 zM437 288.5l2.9 2.9-2.9 2.9-2.9-2.9 zM437.8 287.7l2.9 2.9-2.9 2.9-2.9-2.9 zM438.6 288.3l2.9 2.9-2.9 2.9-2.9-2.9 zM439.3 287.4l2.9 2.9-2.9 2.9-2.9-2.9 zM440 287.9l2.9 2.9-2.9 2.9-2.9-2.9 zM440.7 287l2.9 2.9-2.9 2.9-2.9-2.9 zM441.4 287.5l2.9 2.9-2.9 2.9-2.9-2.9 zM442.1 286.6l2.9 2.9-2.9 2.9-2.9-2.9 zM442.9 287l2.9 2.9-2.9 2.9-2.9-2.9 zM443.7 286l2.9 2.9-2.9 2.9-2.9-2.9 zM444.6 286.4l2.9 2.9-2.9 2.9-2.9-2.9 zM445.4 285.5l2.9 2.9-2.9 2.9-2.9-2.9 zM446.2 285.9l2.9 2.9-2.9 2.9-2.9-2.9 zM447 285l2.9 2.9-2.9 2.9-2.9-2.9 zM447.8 285.6l2.9 2.9-2.9 2.9-2.9-2.9 zM448.7 284.8l2.9 2.9-2.9 2.9-2.9-2.9 zM449.5 285.4l2.9 2.9-2.9 2.9-2.9-2.9 zM450.3 284.7l2.9 2.9-2.9 2.9-2.9-2.9 zM451.2 285.4l2.9 2.9-2.9 2.9-2.9-2.9 zM452 284.7l2.9 2.9-2.9 2.9-2.9-2.9 zM452.8 285.5l2.9 2.9-2.9 2.9-2.9-2.9 zM453.6 284.9l2.9 2.9-2.9 2.9-2.9-2.9 zM454.5 285.7l2.9 2.9-2.9 2.9-2.9-2.9 zM455.3 285.2l2.9 2.9-2.9 2.9-2.9-2.9 zM456.1 286.1l2.9 2.9-2.9 2.9-2.9-2.9 zM457 285.6l2.9 2.9-2.9 2.9-2.9-2.9 zM457.8 286.5l2.9 2.9-2.9 2.9-2.9-2.9 zM458.6 286l2.9 2.9-2.9 2.9-2.9-2.9 zM459.4 286.9l2.9 2.9-2.9 2.9-2.9-2.9 zM460.3 286.4l2.9 2.9-2.9 2.9-2.9-2.9 zM461.1 287.4l2.9 2.9-2.9 2.9-2.9-2.9 zM461.9 286.9l2.9 2.9-2.9 2.9-2.9-2.9 zM462.6 287.9l2.9 2.9-2.9 2.9-2.9-2.9 zM463.4 287.5l2.9 2.9-2.9 2.9-2.9-2.9 zM464 288.5l2.9 2.9-2.9 2.9-2.9-2.9 zM464.7 288.2l2.9 2.9-2.9 2.9-2.9-2.9 zM465.3 289.2l2.9 2.9-2.9 2.9-2.9-2.9 zM466.1 288.9l2.9 2.9-2.9 2.9-2.9-2.9 zM467 289.9l2.9 2.9-2.9 2.9-2.9-2.9 zM467.6 289.4l2.9 2.9-2.9 2.9-2.9-2.9 zM468.3 290.3l2.9 2.9-2.9 2.9-2.9-2.9 zM469 289.8l2.9 2.9-2.9 2.9-2.9-2.9 zM469.7 290.7l2.9 2.9-2.9 2.9-2.9-2.9 zM470.5 290.2l2.9 2.9-2.9 2.9-2.9-2.9 zM471.3 291.1l2.9 2.9-2.9 2.9-2.9-2.9 zM472.2 290.6l2.9 2.9-2.9 2.9-2.9-2.9 zM473.1 291.5l2.9 2.9-2.9 2.9-2.9-2.9 zM474 290.9l2.9 2.9-2.9 2.9-2.9-2.9 zM475 291.7l2.9 2.9-2.9 2.9-2.9-2.9 zM475.7 291.1l2.9 2.9-2.9 2.9-2.9-2.9 zM476.4 291.8l2.9 2.9-2.9 2.9-2.9-2.9 zM477.2 291.1l2.9 2.9-2.9 2.9-2.9-2.9 zM478 291.8l2.9 2.9-2.9 2.9-2.9-2.9 zM478.8 291.1l2.9 2.9-2.9 2.9-2.9-2.9 zM479.6 291.8l2.9 2.9-2.9 2.9-2.9-2.9 zM480.4 291.1l2.9 2.9-2.9 2.9-2.9-2.9 zM481.3 291.8l2.9 2.9-2.9 2.9-2.9-2.9 zM482.1 291.1l2.9 2.9-2.9 2.9-2.9-2.9 zM483 291.8l2.9 2.9-2.9 2.9-2.9-2.9 zM483.8 291.1l2.9 2.9-2.9 2.9-2.9-2.9 zM484.7 291.8l2.9 2.9-2.9 2.9-2.9-2.9 zM485.5 291.1l2.9 2.9-2.9 2.9-2.9-2.9 zM486.4 291.8l2.9 2.9-2.9 2.9-2.9-2.9 zM487.2 291.1l2.9 2.9-2.9 2.9-2.9-2.9 zM488 291.8l2.9 2.9-2.9 2.9-2.9-2.9 zM488.9 291.2l2.9 2.9-2.9 2.9-2.9-2.9 zM489.8 291.9l2.9 2.9-2.9 2.9-2.9-2.9 zM490.7 291.2l2.9 2.9-2.9 2.9-2.9-2.9 zM491.6 291.9l2.9 2.9-2.9 2.9-2.9-2.9 zM492.5 291.3l2.9 2.9-2.9 2.9-2.9-2.9 zM493.4 292l2.9 2.9-2.9 2.9-2.9-2.9 zM494.3 291.4l2.9 2.9-2.9 2.9-2.9-2.9 zM495.1 292.1l2.9 2.9-2.9 2.9-2.9-2.9 zM496 291.5l2.9 2.9-2.9 2.9-2.9-2.9 zM496.8 292.2l2.9 2.9-2.9 2.9-2.9-2.9 zM497.5 291.6l2.9 2.9-2.9 2.9-2.9-2.9 zM498.2 292.3l2.9 2.9-2.9 2.9-2.9-2.9 zM498.8 291.7l2.9 2.9-2.9 2.9-2.9-2.9 zM499.4 292.5l2.9 2.9-2.9 2.9-2.9-2.9 zM500.7 292.1l2.9 2.9-2.9 2.9-2.9-2.9 zM501.5 293.1l2.9 2.9-2.9 2.9-2.9-2.9 zM502.1 292.8l2.9 2.9-2.9 2.9-2.9-2.9 zM502.5 293.9l2.9 2.9-2.9 2.9-2.9-2.9 zM503 293.6l2.9 2.9-2.9 2.9-2.9-2.9 zM503.6 294.9l2.9 2.9-2.9 2.9-2.9-2.9 zM504.1 294.9l2.9 2.9-2.9 2.9-2.9-2.9 zM504.6 296.2l2.9 2.9-2.9 2.9-2.9-2.9 zM505.5 296l2.9 2.9-2.9 2.9-2.9-2.9 zM506 296.9l2.9 2.9-2.9 2.9-2.9-2.9 zM506.6 296.4l2.9 2.9-2.9 2.9-2.9-2.9 zM507.3 297.2l2.9 2.9-2.9 2.9-2.9-2.9 zM507.9 296.6l2.9 2.9-2.9 2.9-2.9-2.9 zM508.7 297.5l2.9 2.9-2.9 2.9-2.9-2.9 zM509.6 296.8l2.9 2.9-2.9 2.9-2.9-2.9 zM510.5 297.6l2.9 2.9-2.9 2.9-2.9-2.9 zM511.6 296.9l2.9 2.9-2.9 2.9-2.9-2.9 zM512.2 297.6l2.9 2.9-2.9 2.9-2.9-2.9 zM512.9 296.9l2.9 2.9-2.9 2.9-2.9-2.9 zM513.7 297.5l2.9 2.9-2.9 2.9-2.9-2.9 zM514.4 296.8l2.9 2.9-2.9 2.9-2.9-2.9 zM515.3 297.5l2.9 2.9-2.9 2.9-2.9-2.9 zM516.1 296.7l2.9 2.9-2.9 2.9-2.9-2.9 zM516.9 297.3l2.9 2.9-2.9 2.9-2.9-2.9 zM517.8 296.6l2.9 2.9-2.9 2.9-2.9-2.9 zM518.7 297.2l2.9 2.9-2.9 2.9-2.9-2.9 zM519.6 296.4l2.9 2.9-2.9 2.9-2.9-2.9 zM520.5 297.1l2.9 2.9-2.9 2.9-2.9-2.9 zM521.3 296.3l2.9 2.9-2.9 2.9-2.9-2.9 zM522.2 296.9l2.9 2.9-2.9 2.9-2.9-2.9 zM523 296.2l2.9 2.9-2.9 2.9-2.9-2.9 zM523.8 296.8l2.9 2.9-2.9 2.9-2.9-2.9 zM524.6 296l2.9 2.9-2.9 2.9-2.9-2.9 zM525.4 296.7l2.9 2.9-2.9 2.9-2.9-2.9 zM526.3 295.9l2.9 2.9-2.9 2.9-2.9-2.9 zM527.1 296.6l2.9 2.9-2.9 2.9-2.9-2.9 zM527.9 295.8l2.9 2.9-2.9 2.9-2.9-2.9 zM528.6 296.5l2.9 2.9-2.9 2.9-2.9-2.9 zM529.4 295.7l2.9 2.9-2.9 2.9-2.9-2.9 zM530.2 296.3l2.9 2.9-2.9 2.9-2.9-2.9 zM531 295.6l2.9 2.9-2.9 2.9-2.9-2.9 zM531.8 296.2l2.9 2.9-2.9 2.9-2.9-2.9 zM532.6 295.5l2.9 2.9-2.9 2.9-2.9-2.9 zM533.4 296.2l2.9 2.9-2.9 2.9-2.9-2.9 zM534.2 295.4l2.9 2.9-2.9 2.9-2.9-2.9 zM535 296.1l2.9 2.9-2.9 2.9-2.9-2.9 zM535.8 295.4l2.9 2.9-2.9 2.9-2.9-2.9 zM536.5 296.1l2.9 2.9-2.9 2.9-2.9-2.9 zM537.3 295.3l2.9 2.9-2.9 2.9-2.9-2.9 zM538.1 296l2.9 2.9-2.9 2.9-2.9-2.9 zM538.9 295.3l2.9 2.9-2.9 2.9-2.9-2.9 zM539.6 296l2.9 2.9-2.9 2.9-2.9-2.9 zM540.4 295.3l2.9 2.9-2.9 2.9-2.9-2.9 zM541.2 296l2.9 2.9-2.9 2.9-2.9-2.9 zM542 295.3l2.9 2.9-2.9 2.9-2.9-2.9 zM542.8 296l2.9 2.9-2.9 2.9-2.9-2.9 zM543.6 295.3l2.9 2.9-2.9 2.9-2.9-2.9 zM544.4 296.1l2.9 2.9-2.9 2.9-2.9-2.9 zM545.1 295.4l2.9 2.9-2.9 2.9-2.9-2.9 zM545.9 296.1l2.9 2.9-2.9 2.9-2.9-2.9 zM546.7 295.4l2.9 2.9-2.9 2.9-2.9-2.9 zM547.5 296.1l2.9 2.9-2.9 2.9-2.9-2.9 zM548.3 295.5l2.9 2.9-2.9 2.9-2.9-2.9 zM549 296.2l2.9 2.9-2.9 2.9-2.9-2.9 zM549.8 295.5l2.9 2.9-2.9 2.9-2.9-2.9 zM550.6 296.3l2.9 2.9-2.9 2.9-2.9-2.9 zM551.4 295.7l2.9 2.9-2.9 2.9-2.9-2.9 zM552.2 296.4l2.9 2.9-2.9 2.9-2.9-2.9 zM552.9 295.8l2.9 2.9-2.9 2.9-2.9-2.9 zM553.7 296.5l2.9 2.9-2.9 2.9-2.9-2.9 zM554.5 295.9l2.9 2.9-2.9 2.9-2.9-2.9 zM555.3 296.6l2.9 2.9-2.9 2.9-2.9-2.9 zM556.1 295.9l2.9 2.9-2.9 2.9-2.9-2.9 zM556.8 296.6l2.9 2.9-2.9 2.9-2.9-2.9 zM557.6 295.9l2.9 2.9-2.9 2.9-2.9-2.9 zM558.4 296.6l2.9 2.9-2.9 2.9-2.9-2.9 zM559.2 295.9l2.9 2.9-2.9 2.9-2.9-2.9 zM560 296.5l2.9 2.9-2.9 2.9-2.9-2.9 zM560.7 295.7l2.9 2.9-2.9 2.9-2.9-2.9 zM561.5 296.3l2.9 2.9-2.9 2.9-2.9-2.9 zM562.3 295.5l2.9 2.9-2.9 2.9-2.9-2.9 zM563 296.1l2.9 2.9-2.9 2.9-2.9-2.9 zM563.8 295.3l2.9 2.9-2.9 2.9-2.9-2.9 zM564.6 295.9l2.9 2.9-2.9 2.9-2.9-2.9 zM565.4 295.1l2.9 2.9-2.9 2.9-2.9-2.9 zM566.1 295.7l2.9 2.9-2.9 2.9-2.9-2.9 zM566.9 294.9l2.9 2.9-2.9 2.9-2.9-2.9 zM567.7 295.5l2.9 2.9-2.9 2.9-2.9-2.9 zM568.4 294.7l2.9 2.9-2.9 2.9-2.9-2.9 zM569.2 295.3l2.9 2.9-2.9 2.9-2.9-2.9 zM570 294.5l2.9 2.9-2.9 2.9-2.9-2.9 zM570.8 295.1l2.9 2.9-2.9 2.9-2.9-2.9 zM571.6 294.4l2.9 2.9-2.9 2.9-2.9-2.9 zM572.4 295l2.9 2.9-2.9 2.9-2.9-2.9 zM573.3 294.2l2.9 2.9-2.9 2.9-2.9-2.9 zM574.1 294.9l2.9 2.9-2.9 2.9-2.9-2.9 zM575 294.1l2.9 2.9-2.9 2.9-2.9-2.9 zM575.8 294.7l2.9 2.9-2.9 2.9-2.9-2.9 zM576.6 294l2.9 2.9-2.9 2.9-2.9-2.9 zM577.4 294.6l2.9 2.9-2.9 2.9-2.9-2.9 zM578.2 293.9l2.9 2.9-2.9 2.9-2.9-2.9 zM579 294.6l2.9 2.9-2.9 2.9-2.9-2.9 zM579.7 293.9l2.9 2.9-2.9 2.9-2.9-2.9 zM580.4 294.6l2.9 2.9-2.9 2.9-2.9-2.9 zM581.1 293.9l2.9 2.9-2.9 2.9-2.9-2.9 zM581.7 294.7l2.9 2.9-2.9 2.9-2.9-2.9 zM582.7 294.2l2.9 2.9-2.9 2.9-2.9-2.9 zM583.6 295.2l2.9 2.9-2.9 2.9-2.9-2.9 zM584.3 294.9l2.9 2.9-2.9 2.9-2.9-2.9 zM584.9 296l2.9 2.9-2.9 2.9-2.9-2.9 zM585.6 295.7l2.9 2.9-2.9 2.9-2.9-2.9 zM586.2 296.7l2.9 2.9-2.9 2.9-2.9-2.9 zM586.8 296.3l2.9 2.9-2.9 2.9-2.9-2.9 zM587.6 297.1l2.9 2.9-2.9 2.9-2.9-2.9 zM588.3 296.4l2.9 2.9-2.9 2.9-2.9-2.9 zM589.1 297l2.9 2.9-2.9 2.9-2.9-2.9 zM589.9 296.2l2.9 2.9-2.9 2.9-2.9-2.9 zM590.7 296.7l2.9 2.9-2.9 2.9-2.9-2.9 zM591.6 295.7l2.9 2.9-2.9 2.9-2.9-2.9 zM592.4 296.2l2.9 2.9-2.9 2.9-2.9-2.9 zM593.2 295.3l2.9 2.9-2.9 2.9-2.9-2.9 zM593.9 295.8l2.9 2.9-2.9 2.9-2.9-2.9 zM594.6 295l2.9 2.9-2.9 2.9-2.9-2.9 zM595.6 295.6l2.9 2.9-2.9 2.9-2.9-2.9 zM596.4 294.9l2.9 2.9-2.9 2.9-2.9-2.9 zM597.3 295.6l2.9 2.9-2.9 2.9-2.9-2.9 zM598.1 294.9l2.9 2.9-2.9 2.9-2.9-2.9 zM598.9 295.7l2.9 2.9-2.9 2.9-2.9-2.9 zM599.7 295.2l2.9 2.9-2.9 2.9-2.9-2.9 zM600.5 296.1l2.9 2.9-2.9 2.9-2.9-2.9 zM601.3 295.8l2.9 2.9-2.9 2.9-2.9-2.9 zM602.1 296.9l2.9 2.9-2.9 2.9-2.9-2.9 zM602.9 296.6l2.9 2.9-2.9 2.9-2.9-2.9 zM603.6 297.6l2.9 2.9-2.9 2.9-2.9-2.9 zM604.4 297.2l2.9 2.9-2.9 2.9-2.9-2.9 zM605 298l2.9 2.9-2.9 2.9-2.9-2.9 zM605.8 297.2l2.9 2.9-2.9 2.9-2.9-2.9 zM606.4 297.6l2.9 2.9-2.9 2.9-2.9-2.9 zM607 296.5l2.9 2.9-2.9 2.9-2.9-2.9 zM607.5 296.6l2.9 2.9-2.9 2.9-2.9-2.9 zM608 295.3l2.9 2.9-2.9 2.9-2.9-2.9 zM608.4 295.4l2.9 2.9-2.9 2.9-2.9-2.9 zM608.7 294l2.9 2.9-2.9 2.9-2.9-2.9 zM609 294l2.9 2.9-2.9 2.9-2.9-2.9 zM609.2 292.5l2.9 2.9-2.9 2.9-2.9-2.9 zM609.5 292.5l2.9 2.9-2.9 2.9-2.9-2.9 zM609.7 291.1l2.9 2.9-2.9 2.9-2.9-2.9 zM610 291l2.9 2.9-2.9 2.9-2.9-2.9 zM610.2 289.4l2.9 2.9-2.9 2.9-2.9-2.9 zM610.5 289.4l2.9 2.9-2.9 2.9-2.9-2.9 zM610.7 288l2.9 2.9-2.9 2.9-2.9-2.9 zM610.8 288.2l2.9 2.9-2.9 2.9-2.9-2.9 zM611 281.9l2.9 2.9-2.9 2.9-2.9-2.9 zM611 272.1l2.9 2.9-2.9 2.9-2.9-2.9 zM611.5 259.9l2.9 2.9-2.9 2.9-2.9-2.9 zM611.7 253.8l2.9 2.9-2.9 2.9-2.9-2.9 zM612.2 248.8l2.9 2.9-2.9 2.9-2.9-2.9 zM612.4 248.7l2.9 2.9-2.9 2.9-2.9-2.9 zM612.6 247.7l2.9 2.9-2.9 2.9-2.9-2.9 zM612.9 247.4l2.9 2.9-2.9 2.9-2.9-2.9 zM613.3 246.3l2.9 2.9-2.9 2.9-2.9-2.9 zM613.7 245.9l2.9 2.9-2.9 2.9-2.9-2.9 zM614.1 244.7l2.9 2.9-2.9 2.9-2.9-2.9 zM614.6 244.3l2.9 2.9-2.9 2.9-2.9-2.9 zM615 243.4l2.9 2.9-2.9 2.9-2.9-2.9 zM615.5 243.2l2.9 2.9-2.9 2.9-2.9-2.9 zM616 242.3l2.9 2.9-2.9 2.9-2.9-2.9 zM616.6 242.1l2.9 2.9-2.9 2.9-2.9-2.9 zM617.2 241.1l2.9 2.9-2.9 2.9-2.9-2.9 zM617.8 240.9l2.9 2.9-2.9 2.9-2.9-2.9 zM618.4 240l2.9 2.9-2.9 2.9-2.9-2.9 zM618.9 239.9l2.9 2.9-2.9 2.9-2.9-2.9 zM619.5 239.1l2.9 2.9-2.9 2.9-2.9-2.9 zM620.2 238.9l2.9 2.9-2.9 2.9-2.9-2.9 zM620.9 238l2.9 2.9-2.9 2.9-2.9-2.9 zM621.6 237.9l2.9 2.9-2.9 2.9-2.9-2.9 zM622.3 237.1l2.9 2.9-2.9 2.9-2.9-2.9 zM623 237.1l2.9 2.9-2.9 2.9-2.9-2.9 zM623.7 236.4l2.9 2.9-2.9 2.9-2.9-2.9 zM624.4 236.4l2.9 2.9-2.9 2.9-2.9-2.9 zM625.2 235.8l2.9 2.9-2.9 2.9-2.9-2.9 zM626.1 235.9l2.9 2.9-2.9 2.9-2.9-2.9 zM627 235.3l2.9 2.9-2.9 2.9-2.9-2.9 zM627.8 235.5l2.9 2.9-2.9 2.9-2.9-2.9 zM628.6 234.9l2.9 2.9-2.9 2.9-2.9-2.9 zM629.3 235.2l2.9 2.9-2.9 2.9-2.9-2.9 zM629.8 234.7l2.9 2.9-2.9 2.9-2.9-2.9 z" fill="#c94a48"/><path d="M59.3 175.4h0M60 175.4h0M60.9 175.4h0M61.9 175.4h0M63.1 175.4h0M64.4 175.4h0M65.8 175.4h0M67.2 175.4h0M68.7 175.4h0M70.3 175.4h0M71.8 175.4h0M73.3 175.4h0M74.7 175.4h0M76.1 175.4h0M77.4 175.4h0M78.6 175.4h0M79.6 175.4h0M80.5 175.4h0M81.2 175.4h0M82.9 194.9h0M85.2 226.5h0M87.3 239.7h0M88.8 249.2h0M90.4 256.4h0M92.2 261.5h0M94.2 264.2h0M94.9 264.9h0M95.9 266h0M96.8 267h0M97.6 267.8h0M98.3 268.5h0M99 269.2h0M99.7 269.9h0M100.4 270.7h0M101.2 271.4h0M102 272h0M102.8 272.7h0M104.1 273.6h0M104.8 274.1h0M105.6 274.7h0M106.5 275.3h0M107.4 275.9h0M108.4 276.6h0M109.4 277.2h0M110.4 277.8h0M111.4 278.3h0M112.4 278.7h0M113.4 279.1h0M114.5 279.4h0M115.5 279.6h0M116.6 279.9h0M117.7 280.1h0M118.8 280.3h0M120 280.6h0M121 280.8h0M122.1 281.1h0M123.2 281.3h0M124.3 281.5h0M125.5 281.7h0M126.6 281.9h0M127.8 282.1h0M128.9 282.3h0M130 282.5h0M131.1 282.7h0M132 282.9h0M133 283h0M133.9 283.2h0M134.9 283.3h0M135.9 283.5h0M137.1 283.6h0M138.4 283.8h0M140 284h0M140.9 284.1h0M141.8 284.2h0M142.8 284.3h0M143.8 284.4h0M144.8 284.6h0M145.9 284.7h0M147.1 284.8h0M148.2 284.9h0M149.4 285.1h0M150.6 285.2h0M151.8 285.3h0M153 285.4h0M154.2 285.6h0M155.4 285.7h0M156.6 285.8h0M157.7 285.8h0M158.9 285.9h0M160 286h0M161.1 286.1h0M162.3 286.1h0M163.4 286.2h0M164.6 286.2h0M165.8 286.2h0M166.9 286.2h0M168.1 286.2h0M169.3 286.3h0M170.4 286.3h0M171.6 286.3h0M172.7 286.3h0M173.9 286.3h0M175 286.3h0M176 286.3h0M177.1 286.3h0M178.1 286.3h0M179.1 286.3h0M180 286.3h0M181.4 286.3h0M182.7 286.3h0M184 286.3h0M185.2 286.3h0M186.4 286.2h0M187.5 286.2h0M188.6 286.2h0M189.6 286.2h0M190.5 286.2h0M191.4 286.3h0M192.3 286.3h0M193 286.4h0M194.7 286.8h0M195.6 287.4h0M196.3 288h0M197 288.6h0M198.1 289.4h0M199 290.2h0M200 290.8h0M201.3 291.2h0M202.6 291.5h0M203.5 291.7h0M205.6 285.8h0M207.8 259.7h0M210 247.8h0M211.7 241.8h0M213.8 236.7h0M215.2 234h0M215.5 233.5h0M216.3 232.4h0M216.8 231.8h0M217.3 231.1h0M218 230.4h0M218.7 229.6h0M219.6 228.8h0M220.6 228.1h0M221.5 227.6h0M222.4 227.1h0M223.5 226.6h0M224.6 226.2h0M225.7 225.8h0M226.9 225.4h0M228 225h0M229.1 224.7h0M230.2 224.5h0M231.2 224.3h0M232.3 224.1h0M233.4 224h0M234.5 224h0M235.6 223.9h0M236.6 223.9h0M237.7 223.8h0M238.8 223.8h0M239.8 223.7h0M240.8 223.7h0M241.8 223.8h0M242.9 223.8h0M243.9 223.8h0M245 223.8h0M246.2 223.8h0M247.3 223.8h0M248.6 223.7h0M249.9 223.7h0M251.3 223.7h0M252.6 223.6h0M253.8 223.6h0M255 223.6h0M255.9 223.5h0M256.6 223.5h0M258.8 218.3h0M259.3 217.9h0M260 217.4h0M260.8 216.8h0M261.7 216.1h0M262.7 215.4h0M263.6 214.7h0M264.6 214h0M265.4 213.5h0M266.3 212.9h0M267.2 212.4h0M268.2 211.8h0M269.1 211.3h0M270 210.7h0M271 210.2h0M271.9 209.6h0M272.8 209h0M273.7 208.5h0M274.7 207.9h0M275.6 207.4h0M276.5 206.8h0M277.5 206.3h0M278.4 205.7h0M279.3 205.2h0M280.3 204.6h0M281.4 204.1h0M282.4 203.5h0M283.5 203h0M284.5 202.5h0M285.6 202h0M286.6 201.5h0M287.6 201h0M288.7 200.6h0M289.7 200.1h0M290.8 199.7h0M291.8 199.3h0M292.9 198.9h0M293.9 198.6h0M294.9 198.3h0M296 198h0M297 197.8h0M298.1 197.5h0M299.1 197.3h0M300.2 197.1h0M301.2 196.8h0M302.2 196.5h0M303.3 196.2h0M304.3 196h0M305.4 195.7h0M306.4 195.4h0M307.5 195.1h0M308.5 194.9h0M309.5 194.7h0M310.6 194.5h0M311.6 194.4h0M312.7 194.2h0M313.7 194.1h0M314.8 193.9h0M315.8 193.8h0M316.9 193.7h0M317.9 193.5h0M319 193.4h0M320 193.3h0M321.1 193.2h0M322.1 193.1h0M323.2 193h0M324.3 192.9h0M325.5 192.8h0M326.7 192.7h0M327.9 192.7h0M328.9 192.6h0M329.8 192.5h0M330.5 192.5h0M414.1 175h0M417 182.9h0M417.2 193.9h0M417.3 196h0M417.3 202.3h0M417.4 208.4h0M417.4 214.5h0M417.5 220h0M417.5 225h0M417.8 228.9h0M417.8 231.5h0M417.9 229.9h0M417.9 232.6h0M417.9 231.1h0M418 234h0M418 232.6h0M418 235.6h0M418.1 234.3h0M418.1 237.3h0M418.2 236h0M418.2 239.2h0M418.3 237.9h0M418.3 241h0M418.4 239.7h0M418.4 242.8h0M418.5 241.5h0M418.5 244.5h0M418.6 243.1h0M418.6 246.1h0M418.6 244.8h0M418.7 247.9h0M418.7 246.5h0M418.8 249.6h0M418.8 248.3h0M418.9 251.3h0M418.9 250h0M419 253h0M419 251.7h0M419.1 254.7h0M419.1 253.3h0M419.1 256.2h0M419.2 254.8h0M419.2 257.7h0M419.3 256.2h0M419.3 259.1h0M419.4 257.9h0M419.4 261.1h0M419.4 259.7h0M419.5 262.8h0M419.5 261.4h0M419.6 264.3h0M419.6 262.8h0M419.7 265.7h0M419.7 264.2h0M419.8 267.1h0M419.9 265.8h0M420.1 268.9h0M420.2 267.5h0M420.4 270.5h0M420.5 269h0M420.8 271.9h0M421 270.4h0M421.3 273.4h0M421.7 271.9h0M422.2 274.8h0M422.6 273.3h0M423.1 276.1h0M423.5 274.4h0M424 277.3h0M424.5 275.6h0M425 278.2h0M425.7 276.5h0M426.3 279.1h0M426.9 277.2h0M427.5 279.8h0M428.3 278h0M429.1 280.6h0M430 278.7h0M430.7 281.1h0M431.4 279.2h0M432.2 281.6h0M433.1 279.6h0M433.9 282h0M434.8 280h0M435.6 282.4h0M436.3 280.4h0M437 282.7h0M438 280.7h0M438.8 283.1h0M439.5 281h0M440.2 283.2h0M441 280.9h0M441.7 282.9h0M442.5 280.3h0M443.3 282h0M444.1 279.4h0M444.8 281.3h0M445.6 278.9h0M446.3 281.1h0M447 279.1h0M447.7 281.6h0M448.3 279.7h0M449.1 282.2h0M450 280.3h0M450.7 282.7h0M451.4 280.7h0M452.1 283.1h0M452.9 281h0M453.7 283.4h0M454.5 281.4h0M455.3 283.8h0M456.2 281.8h0M457 284.1h0M457.8 282h0M458.5 284.3h0M459.3 282.2h0M460 284.5h0M460.8 282.4h0M461.6 284.6h0M462.4 282.5h0M463.3 284.7h0M464.1 282.6h0M465 284.8h0M465.7 282.6h0M466.5 284.8h0M467.3 282.6h0M468.1 284.8h0M468.9 282.6h0M469.8 284.8h0M470.6 282.6h0M471.4 284.8h0M472.2 282.6h0M473 284.8h0M473.7 282.5h0M474.4 284.7h0M475 282.5h0M476.2 284.7h0M477.2 282.4h0M478.1 284.5h0M478.9 282.3h0M479.5 284.4h0M480 282.2h0M480 282.7h0M480.5 283.9h0M481 282.7h0M481.7 283.8h0M482.4 282.6h0M483.3 283.8h0M484.2 282.5h0M485.1 283.7h0M486.1 282.4h0M487.2 283.6h0M487.9 282.4h0M488.6 283.6h0M489.3 282.3h0M490.1 283.5h0M490.9 282.3h0M491.7 283.4h0M492.6 282.2h0M493.4 283.4h0M494.3 282.2h0M495.1 283.3h0M496 282.1h0M496.9 283.3h0M497.7 282.1h0M498.6 283.2h0M499.4 282h0M500.2 283.2h0M501 282h0M501.8 283.1h0M502.7 281.9h0M503.5 283.1h0M504.3 281.9h0M505.1 283.1h0M505.9 281.8h0M506.7 283h0M507.5 281.8h0M508.3 283h0M509.2 281.7h0M510 282.9h0M510.8 281.6h0M511.6 282.8h0M512.4 281.5h0M513.3 282.7h0M514.2 281.4h0M515.1 282.5h0M516 281.2h0M516.9 282.3h0M517.8 281h0M518.7 282.1h0M519.5 280.8h0M520.4 281.9h0M521.2 280.6h0M521.9 281.8h0M522.6 280.5h0M523.2 281.6h0M523.8 280.4h0M525.1 281.5h0M526 280.3h0M526.6 281.5h0M527 280.4h0M527.5 281.9h0M528 281.4h0M528.4 283.5h0M528.6 283.3h0M528.8 285.1h0M528.8 268.1h0M529 241.6h0M529 236.3h0M529.8 232.1h0M529.8 232.3h0M529.8 230.9h0M529.7 230.9h0M529.7 229.4h0M529.6 229.2h0M529.6 227.5h0M529.6 227.2h0M529.6 225.6h0M529.6 225.4h0M529.6 223.9h0M529.7 223.9h0M529.8 222.6h0M530.1 222.3h0M530.5 220.9h0M530.9 221h0M531.5 219.9h0M532.1 220.3h0M532.9 219.2h0M533.4 219.8h0M533.8 218.9h0M534.1 219.6h0M534.5 218.8h0M535 219.5h0M535.8 218.8h0M536.8 219.5h0M538.2 218.8h0M540 219.4h0M540.5 218.7h0M541.1 219.4h0M541.7 218.7h0M542.4 219.4h0M543.1 218.7h0M543.8 219.4h0M544.6 218.7h0M545.4 219.4h0M546.2 218.7h0M547.1 219.4h0M548 218.7h0M548.9 219.4h0M549.8 218.7h0M550.7 219.4h0M551.7 218.7h0M552.6 219.4h0M553.6 218.7h0M554.6 219.4h0M555.5 218.7h0M556.5 219.4h0M557.5 218.7h0M558.4 219.4h0M559.4 218.7h0M560.3 219.4h0M561.2 218.7h0M562.1 219.4h0M563 218.7h0M563.8 219.4h0M564.6 218.7h0M565.4 219.4h0M566.2 218.7h0M566.9 219.4h0M567.6 218.7h0M568.2 219.4h0M568.8 218.7h0M569.3 219.4h0M569.8 218.7h0M570.2 219.4h0M569.4 213.8h0M569.4 213.9h0M569.5 212.7h0M569.6 212.5h0M569.7 211.1h0M569.7 210.8h0M569.8 209.3h0M570 209h0M570.1 207.5h0M570.2 207.3h0M570.4 205.9h0M570.5 205.6h0M570.7 204.2h0M570.9 204h0M571.1 202.5h0M571.3 202.4h0M571.6 201h0M571.8 200.9h0M572.1 199.5h0M572.4 199.4h0M572.7 198.1h0M573.1 198.1h0M573.4 196.8h0M573.8 196.8h0M574.2 195.6h0M574.7 195.5h0M575.2 194.2h0M575.7 194.2h0M576.2 192.9h0M576.8 192.9h0M577.4 191.6h0M577.9 191.7h0M578.6 190.5h0M579.3 190.5h0M579.9 189.3h0M580.6 189.4h0M581.2 188.3h0M581.7 188.5h0M582.1 187.6h0" stroke="#9abb56" stroke-width="4.6" stroke-linecap="round" fill="none"/><path d="M59.9 113.1l2.9 5h-5.8zM60.6 113.1l2.9 5h-5.8zM61.5 113.1l2.9 5h-5.8zM62.5 113.1l2.9 5h-5.8zM63.6 113.1l2.9 5h-5.8zM64.9 113.1l2.9 5h-5.8zM66.3 113.1l2.9 5h-5.8zM67.7 113.1l2.9 5h-5.8zM69.2 113.1l2.9 5h-5.8zM70.7 113.1l2.9 5h-5.8zM72.1 113.1l2.9 5h-5.8zM73.6 113.1l2.9 5h-5.8zM75 113.1l2.9 5h-5.8zM76.4 113.1l2.9 5h-5.8zM77.7 113.1l2.9 5h-5.8zM78.8 113.1l2.9 5h-5.8zM79.8 113.1l2.9 5h-5.8zM80.7 113.1l2.9 5h-5.8zM81.4 113.1l2.9 5h-5.8zM83.7 144.3l2.9 5h-5.8zM85.5 190.5l2.9 5h-5.8zM87.3 210.3l2.9 5h-5.8zM89.2 222.5l2.9 5h-5.8zM91 232.4l2.9 5h-5.8zM92.2 237.7l2.9 5h-5.8zM94 242.6l2.9 5h-5.8zM95.9 245.9l2.9 5h-5.8zM96.2 246.6l2.9 5h-5.8zM96.8 247.7l2.9 5h-5.8zM97.4 248.5l2.9 5h-5.8zM98.1 249.5l2.9 5h-5.8zM98.9 250.6l2.9 5h-5.8zM99.7 251.5l2.9 5h-5.8zM100.4 252.3l2.9 5h-5.8zM101.1 253l2.9 5h-5.8zM101.8 253.7l2.9 5h-5.8zM102.6 254.4l2.9 5h-5.8zM103.5 255.1l2.9 5h-5.8zM104.4 255.8l2.9 5h-5.8zM105.4 256.5l2.9 5h-5.8zM106.3 257.2l2.9 5h-5.8zM107.2 257.8l2.9 5h-5.8zM108.1 258.4l2.9 5h-5.8zM109 258.9l2.9 5h-5.8zM109.9 259.4l2.9 5h-5.8zM110.8 259.9l2.9 5h-5.8zM111.6 260.3l2.9 5h-5.8zM112.5 260.7l2.9 5h-5.8zM113.6 261.1l2.9 5h-5.8zM114.5 261.4l2.9 5h-5.8zM115.4 261.6l2.9 5h-5.8zM116.4 261.8l2.9 5h-5.8zM117.5 262.1l2.9 5h-5.8zM118.7 262.3l2.9 5h-5.8zM120 262.5l2.9 5h-5.8zM121 262.6l2.9 5h-5.8zM122.1 262.8l2.9 5h-5.8zM123.2 262.9l2.9 5h-5.8zM124.4 263.1l2.9 5h-5.8zM125.6 263.2l2.9 5h-5.8zM126.8 263.3l2.9 5h-5.8zM128 263.4l2.9 5h-5.8zM129 263.5l2.9 5h-5.8zM130 263.6l2.9 5h-5.8zM131.4 263.7l2.9 5h-5.8zM132.6 263.7l2.9 5h-5.8zM133.6 263.7l2.9 5h-5.8zM134.7 263.8l2.9 5h-5.8zM136 263.9l2.9 5h-5.8zM137 264.1l2.9 5h-5.8zM138.1 264.3l2.9 5h-5.8zM139.3 264.5l2.9 5h-5.8zM140.4 264.8l2.9 5h-5.8zM141.6 265.1l2.9 5h-5.8zM142.8 265.3l2.9 5h-5.8zM143.9 265.6l2.9 5h-5.8zM144.8 265.8l2.9 5h-5.8zM146.1 266.1l2.9 5h-5.8zM147.2 266.4l2.9 5h-5.8zM148.2 266.6l2.9 5h-5.8zM149.1 266.8l2.9 5h-5.8zM150 267.1l2.9 5h-5.8zM151.1 267.4l2.9 5h-5.8zM152.1 267.7l2.9 5h-5.8zM153.1 268.1l2.9 5h-5.8zM154.3 268.5l2.9 5h-5.8zM155.2 268.8l2.9 5h-5.8zM156.1 269.2l2.9 5h-5.8zM157.1 269.6l2.9 5h-5.8zM158.1 270l2.9 5h-5.8zM159.1 270.4l2.9 5h-5.8zM160 270.8l2.9 5h-5.8zM161.2 271.3l2.9 5h-5.8zM162.4 271.8l2.9 5h-5.8zM163.5 272.3l2.9 5h-5.8zM164.5 272.8l2.9 5h-5.8zM165.2 273.1l2.9 5h-5.8zM166.3 263.9l2.9 5h-5.8zM168.3 236.6l2.9 5h-5.8zM170.2 221.8l2.9 5h-5.8zM171.6 211.1l2.9 5h-5.8zM173.3 203.1l2.9 5h-5.8zM175.4 197.9l2.9 5h-5.8zM177.1 194l2.9 5h-5.8zM178.6 191.8l2.9 5h-5.8zM179.2 191.1l2.9 5h-5.8zM180.5 190l2.9 5h-5.8zM181.3 189.4l2.9 5h-5.8zM182.3 188.8l2.9 5h-5.8zM183.4 188.1l2.9 5h-5.8zM184.5 187.4l2.9 5h-5.8zM185.6 186.8l2.9 5h-5.8zM186.7 186.3l2.9 5h-5.8zM187.7 185.9l2.9 5h-5.8zM188.8 185.5l2.9 5h-5.8zM189.9 185.1l2.9 5h-5.8zM190.8 184.8l2.9 5h-5.8zM192.2 184.5l2.9 5h-5.8zM193.5 184.4l2.9 5h-5.8zM194.5 183.8l2.9 5h-5.8zM195 183.1l2.9 5h-5.8zM195.3 182.1l2.9 5h-5.8zM195.6 181.1l2.9 5h-5.8zM195.9 180l2.9 5h-5.8zM196.3 179l2.9 5h-5.8zM196.7 178.1l2.9 5h-5.8zM197.1 177.1l2.9 5h-5.8zM197.5 176.2l2.9 5h-5.8zM198 175.3l2.9 5h-5.8zM198.5 174.5l2.9 5h-5.8zM199.2 173.6l2.9 5h-5.8zM200 172.7l2.9 5h-5.8zM200.9 171.9l2.9 5h-5.8zM201.6 171.1l2.9 5h-5.8zM202.2 170.3l2.9 5h-5.8zM202.8 169.5l2.9 5h-5.8zM203.4 168.8l2.9 5h-5.8zM204 167.9l2.9 5h-5.8zM204.6 167.1l2.9 5h-5.8zM205.3 166.3l2.9 5h-5.8zM205.9 165.4l2.9 5h-5.8zM206.6 164.5l2.9 5h-5.8zM207.3 163.7l2.9 5h-5.8zM208.1 162.8l2.9 5h-5.8zM208.9 161.9l2.9 5h-5.8zM209.6 161l2.9 5h-5.8zM210.5 160.2l2.9 5h-5.8zM211.3 159.5l2.9 5h-5.8zM212.1 158.9l2.9 5h-5.8zM213 158.3l2.9 5h-5.8zM213.8 157.7l2.9 5h-5.8zM214.6 157.1l2.9 5h-5.8zM215.5 156.4l2.9 5h-5.8zM216.3 155.7l2.9 5h-5.8zM217.1 155.1l2.9 5h-5.8zM218 154.5l2.9 5h-5.8zM218.9 154l2.9 5h-5.8zM219.7 153.5l2.9 5h-5.8zM220.7 153l2.9 5h-5.8zM221.9 152.3l2.9 5h-5.8zM222.7 151.9l2.9 5h-5.8zM223.5 151.4l2.9 5h-5.8zM224.4 150.8l2.9 5h-5.8zM225.4 150.3l2.9 5h-5.8zM226.3 149.7l2.9 5h-5.8zM227.3 149.1l2.9 5h-5.8zM228.3 148.5l2.9 5h-5.8zM229.3 148l2.9 5h-5.8zM230.2 147.5l2.9 5h-5.8zM231.2 146.9l2.9 5h-5.8zM232.1 146.4l2.9 5h-5.8zM233.1 145.9l2.9 5h-5.8zM234 145.3l2.9 5h-5.8zM235 144.8l2.9 5h-5.8zM236 144.3l2.9 5h-5.8zM237 143.8l2.9 5h-5.8zM237.9 143.4l2.9 5h-5.8zM238.9 142.9l2.9 5h-5.8zM239.9 142.5l2.9 5h-5.8zM240.9 142l2.9 5h-5.8zM241.9 141.6l2.9 5h-5.8zM242.9 141.2l2.9 5h-5.8zM243.9 140.8l2.9 5h-5.8zM244.9 140.4l2.9 5h-5.8zM246 140l2.9 5h-5.8zM247.1 139.6l2.9 5h-5.8zM248.1 139.3l2.9 5h-5.8zM249.2 138.9l2.9 5h-5.8zM250.3 138.6l2.9 5h-5.8zM251.4 138.3l2.9 5h-5.8zM252.5 138l2.9 5h-5.8zM253.6 137.7l2.9 5h-5.8zM254.8 137.4l2.9 5h-5.8zM256 137.1l2.9 5h-5.8zM257 136.9l2.9 5h-5.8zM258 136.7l2.9 5h-5.8zM259.1 136.5l2.9 5h-5.8zM260.1 136.3l2.9 5h-5.8zM261.2 136.1l2.9 5h-5.8zM262.3 135.9l2.9 5h-5.8zM263.4 135.8l2.9 5h-5.8zM264.5 135.6l2.9 5h-5.8zM265.5 135.4l2.9 5h-5.8zM266.6 135.3l2.9 5h-5.8zM267.7 135.1l2.9 5h-5.8zM268.8 134.9l2.9 5h-5.8zM269.8 134.8l2.9 5h-5.8zM270.9 134.6l2.9 5h-5.8zM272 134.4l2.9 5h-5.8zM273 134.2l2.9 5h-5.8zM274.1 134.1l2.9 5h-5.8zM275.1 133.9l2.9 5h-5.8zM276.2 133.7l2.9 5h-5.8zM277.3 133.6l2.9 5h-5.8zM278.3 133.4l2.9 5h-5.8zM279.4 133.3l2.9 5h-5.8zM280.5 133.2l2.9 5h-5.8zM281.6 133l2.9 5h-5.8zM282.7 132.9l2.9 5h-5.8zM283.8 132.8l2.9 5h-5.8zM284.9 132.6l2.9 5h-5.8zM286 132.5l2.9 5h-5.8zM287.1 132.4l2.9 5h-5.8zM288.1 132.3l2.9 5h-5.8zM289.1 132.2l2.9 5h-5.8zM290.1 132.1l2.9 5h-5.8zM291.1 132l2.9 5h-5.8zM292.3 131.9l2.9 5h-5.8zM293.5 131.8l2.9 5h-5.8zM294.6 131.7l2.9 5h-5.8zM295.7 131.7l2.9 5h-5.8zM296.7 131.6l2.9 5h-5.8zM297.8 131.6l2.9 5h-5.8zM298.9 131.6l2.9 5h-5.8zM300 131.5l2.9 5h-5.8zM301.1 131.5l2.9 5h-5.8zM302.1 131.4l2.9 5h-5.8zM303.3 131.4l2.9 5h-5.8zM304.4 131.3l2.9 5h-5.8zM305.5 131.3l2.9 5h-5.8zM306.6 131.2l2.9 5h-5.8zM307.8 131.2l2.9 5h-5.8zM308.9 131.1l2.9 5h-5.8zM310 131.1l2.9 5h-5.8zM311.1 131.1l2.9 5h-5.8zM312.2 131l2.9 5h-5.8zM313.3 131l2.9 5h-5.8zM314.4 130.9l2.9 5h-5.8zM315.5 130.9l2.9 5h-5.8zM316.6 130.9l2.9 5h-5.8zM317.7 130.8l2.9 5h-5.8zM318.8 130.8l2.9 5h-5.8zM320 130.8l2.9 5h-5.8zM321.1 130.8l2.9 5h-5.8zM322.3 130.8l2.9 5h-5.8zM323.6 130.8l2.9 5h-5.8zM324.9 130.8l2.9 5h-5.8zM326.1 130.8l2.9 5h-5.8zM327.3 130.8l2.9 5h-5.8zM328.5 130.8l2.9 5h-5.8zM329.5 130.8l2.9 5h-5.8zM330.3 130.8l2.9 5h-5.8zM331 130.8l2.9 5h-5.8zM414.8 113l2.9 5h-5.8zM416.2 114l2.9 5h-5.8zM416.7 133.4l2.9 5h-5.8zM417.2 155.3l2.9 5h-5.8zM417.2 172.5l2.9 5h-5.8zM417.2 184.7l2.9 5h-5.8zM417.4 195.1l2.9 5h-5.8zM417.8 201.6l2.9 5h-5.8zM417.8 208.4l2.9 5h-5.8zM417.8 214.5l2.9 5h-5.8zM417.8 219.3l2.9 5h-5.8zM417.8 223.6l2.9 5h-5.8zM418 225.4l2.9 5h-5.8zM418 228.1l2.9 5h-5.8zM418 226.5l2.9 5h-5.8zM418.1 229.5l2.9 5h-5.8zM418.1 228.1l2.9 5h-5.8zM418.1 231.3l2.9 5h-5.8zM418.1 230l2.9 5h-5.8zM418.2 233.2l2.9 5h-5.8zM418.2 231.9l2.9 5h-5.8zM418.2 235l2.9 5h-5.8zM418.3 233.7l2.9 5h-5.8zM418.3 236.6l2.9 5h-5.8zM418.4 235.3l2.9 5h-5.8zM418.4 238.3l2.9 5h-5.8zM418.5 236.9l2.9 5h-5.8zM418.6 239.8l2.9 5h-5.8zM418.6 238.4l2.9 5h-5.8zM418.7 241.2l2.9 5h-5.8zM418.8 239.7l2.9 5h-5.8zM418.9 242.6l2.9 5h-5.8zM419 241.3l2.9 5h-5.8zM419.2 244.4l2.9 5h-5.8zM419.3 243l2.9 5h-5.8zM419.5 246l2.9 5h-5.8zM419.7 244.6l2.9 5h-5.8zM419.9 247.6l2.9 5h-5.8zM420.2 246.3l2.9 5h-5.8zM420.5 249.3l2.9 5h-5.8zM420.8 247.9l2.9 5h-5.8zM421.1 250.8l2.9 5h-5.8zM421.5 249.4l2.9 5h-5.8zM421.9 252.3l2.9 5h-5.8zM422.4 250.9l2.9 5h-5.8zM422.9 253.8l2.9 5h-5.8zM423.4 252.2l2.9 5h-5.8zM424 255.1l2.9 5h-5.8zM424.5 253.4l2.9 5h-5.8zM425.1 256.2l2.9 5h-5.8zM425.6 254.5l2.9 5h-5.8zM426.2 257.2l2.9 5h-5.8zM426.8 255.4l2.9 5h-5.8zM427.5 258.1l2.9 5h-5.8zM428.2 256.3l2.9 5h-5.8zM428.9 258.9l2.9 5h-5.8zM429.7 257.1l2.9 5h-5.8zM430.4 259.7l2.9 5h-5.8zM431.2 257.9l2.9 5h-5.8zM432 260.4l2.9 5h-5.8zM432.7 258.5l2.9 5h-5.8zM433.4 260.9l2.9 5h-5.8zM434.1 259l2.9 5h-5.8zM434.8 261.4l2.9 5h-5.8zM435.6 259.4l2.9 5h-5.8zM436.3 261.9l2.9 5h-5.8zM437 259.9l2.9 5h-5.8zM437.7 262.3l2.9 5h-5.8zM438.5 260.4l2.9 5h-5.8zM439.2 262.8l2.9 5h-5.8zM440 260.8l2.9 5h-5.8zM440.7 263.2l2.9 5h-5.8zM441.4 261.2l2.9 5h-5.8zM442 263.6l2.9 5h-5.8zM442.8 261.7l2.9 5h-5.8zM443.5 264.2l2.9 5h-5.8zM444.2 262.2l2.9 5h-5.8zM445 264.7l2.9 5h-5.8zM445.7 262.7l2.9 5h-5.8zM446.4 265.1l2.9 5h-5.8zM447.2 263.1l2.9 5h-5.8zM448.1 265.5l2.9 5h-5.8zM449 263.5l2.9 5h-5.8zM450 265.9l2.9 5h-5.8zM450.7 263.8l2.9 5h-5.8zM451.4 266.1l2.9 5h-5.8zM452.2 264l2.9 5h-5.8zM453.1 266.2l2.9 5h-5.8zM453.9 264.1l2.9 5h-5.8zM454.7 266.4l2.9 5h-5.8zM455.5 264.2l2.9 5h-5.8zM456.3 266.5l2.9 5h-5.8zM457 264.3l2.9 5h-5.8zM457.9 266.5l2.9 5h-5.8zM458.7 264.3l2.9 5h-5.8zM459.5 266.5l2.9 5h-5.8zM460.2 264.3l2.9 5h-5.8zM461 266.5l2.9 5h-5.8zM461.7 264.3l2.9 5h-5.8zM462.5 266.5l2.9 5h-5.8zM463.3 264.3l2.9 5h-5.8zM464 266.5l2.9 5h-5.8zM464.8 264.4l2.9 5h-5.8zM465.5 266.6l2.9 5h-5.8zM466.3 264.4l2.9 5h-5.8zM467.1 266.7l2.9 5h-5.8zM468 264.5l2.9 5h-5.8zM468.7 266.7l2.9 5h-5.8zM469.4 264.6l2.9 5h-5.8zM470.2 266.9l2.9 5h-5.8zM471 264.8l2.9 5h-5.8zM471.8 267l2.9 5h-5.8zM472.6 264.9l2.9 5h-5.8zM473.4 267.2l2.9 5h-5.8zM474.2 265l2.9 5h-5.8zM475 267.2l2.9 5h-5.8zM475.8 265l2.9 5h-5.8zM476.7 267.2l2.9 5h-5.8zM477.5 264.9l2.9 5h-5.8zM478.4 267.1l2.9 5h-5.8zM479.3 264.8l2.9 5h-5.8zM480.1 267l2.9 5h-5.8zM480.9 264.7l2.9 5h-5.8zM481.6 266.8l2.9 5h-5.8zM482.3 264.5l2.9 5h-5.8zM483.3 266.5l2.9 5h-5.8zM484 264l2.9 5h-5.8zM484.7 265.9l2.9 5h-5.8zM485.3 263.3l2.9 5h-5.8zM486 265.2l2.9 5h-5.8zM486.7 262.6l2.9 5h-5.8zM487.5 264.3l2.9 5h-5.8zM488.3 261.7l2.9 5h-5.8zM489 263.5l2.9 5h-5.8zM489.6 261l2.9 5h-5.8zM490.4 262.8l2.9 5h-5.8zM491.1 260.4l2.9 5h-5.8zM491.8 263l2.9 5h-5.8zM492.1 261.3l2.9 5h-5.8zM492.4 264.1l2.9 5h-5.8zM492.8 262.7l2.9 5h-5.8zM493.1 265.7l2.9 5h-5.8zM493.4 264.4l2.9 5h-5.8zM493.7 267.3l2.9 5h-5.8zM494 265.7l2.9 5h-5.8zM494.7 268.9l2.9 5h-5.8zM495.3 267.3l2.9 5h-5.8zM495.8 269.9l2.9 5h-5.8zM419.6 249l2.9 5h-5.8zM419.7 250.6l2.9 5h-5.8zM419.9 250.4l2.9 5h-5.8zM420.1 252.3l2.9 5h-5.8zM420.4 252.3l2.9 5h-5.8zM420.7 254.2l2.9 5h-5.8zM421 254l2.9 5h-5.8zM421.4 255.8l2.9 5h-5.8zM421.8 255.5l2.9 5h-5.8zM422.3 257.2l2.9 5h-5.8zM422.9 256.9l2.9 5h-5.8zM423.5 258.5l2.9 5h-5.8zM424.1 258l2.9 5h-5.8zM424.7 259.5l2.9 5h-5.8zM425.4 259l2.9 5h-5.8zM426.1 260.4l2.9 5h-5.8zM426.8 259.8l2.9 5h-5.8zM427.5 261.2l2.9 5h-5.8zM428.2 260.5l2.9 5h-5.8zM429 261.8l2.9 5h-5.8zM429.8 261l2.9 5h-5.8zM430.5 262.2l2.9 5h-5.8zM431.3 261.4l2.9 5h-5.8zM432 262.6l2.9 5h-5.8zM432.9 261.8l2.9 5h-5.8zM433.8 263l2.9 5h-5.8zM434.7 262.2l2.9 5h-5.8zM435.5 263.3l2.9 5h-5.8zM436 262.4l2.9 5h-5.8zM465.5 261.7l2.9 5h-5.8zM496.2 262.1l2.9 5h-5.8zM495.9 226.3l2.9 5h-5.8zM495.9 204l2.9 5h-5.8zM495.9 204.2l2.9 5h-5.8zM495.9 202.9l2.9 5h-5.8zM495.9 203l2.9 5h-5.8zM495.9 201.6l2.9 5h-5.8zM495.9 201.5l2.9 5h-5.8zM495.9 200l2.9 5h-5.8zM495.8 199.8l2.9 5h-5.8zM495.8 198.1l2.9 5h-5.8zM495.8 197.9l2.9 5h-5.8zM495.8 196.2l2.9 5h-5.8zM495.8 195.9l2.9 5h-5.8zM495.8 194.2l2.9 5h-5.8zM495.8 194l2.9 5h-5.8zM495.8 192.3l2.9 5h-5.8zM495.8 192.1l2.9 5h-5.8zM495.8 190.5l2.9 5h-5.8zM495.8 190.4l2.9 5h-5.8zM495.8 189l2.9 5h-5.8zM495.8 189l2.9 5h-5.8zM495.9 187.7l2.9 5h-5.8zM495.9 187.8l2.9 5h-5.8zM496.2 185.5l2.9 5h-5.8zM496.5 185.6l2.9 5h-5.8zM497 184.7l2.9 5h-5.8zM497.6 185.2l2.9 5h-5.8zM498.2 184l2.9 5h-5.8zM498.8 184.3l2.9 5h-5.8zM499.6 183.2l2.9 5h-5.8zM500.4 183.6l2.9 5h-5.8zM501.5 182.6l2.9 5h-5.8zM502.1 183.1l2.9 5h-5.8zM502.8 182.3l2.9 5h-5.8zM503.5 182.9l2.9 5h-5.8zM504.2 182.1l2.9 5h-5.8zM505 182.7l2.9 5h-5.8zM505.9 181.9l2.9 5h-5.8zM506.7 182.5l2.9 5h-5.8zM507.6 181.7l2.9 5h-5.8zM508.4 182.3l2.9 5h-5.8zM509.3 181.6l2.9 5h-5.8zM510 182.2l2.9 5h-5.8zM510.8 181.4l2.9 5h-5.8zM511.6 182.1l2.9 5h-5.8zM512.5 181.3l2.9 5h-5.8zM513.3 182l2.9 5h-5.8zM514.1 181.3l2.9 5h-5.8zM515 181.9l2.9 5h-5.8zM515.8 181.2l2.9 5h-5.8zM516.7 181.9l2.9 5h-5.8zM517.5 181.1l2.9 5h-5.8zM518.3 181.8l2.9 5h-5.8zM519 181.1l2.9 5h-5.8zM519.9 181.7l2.9 5h-5.8zM520.8 181l2.9 5h-5.8zM521.7 181.6l2.9 5h-5.8zM522.6 180.9l2.9 5h-5.8zM523.5 181.5l2.9 5h-5.8zM524.3 180.8l2.9 5h-5.8zM525.1 181.4l2.9 5h-5.8zM525.8 180.7l2.9 5h-5.8zM526.3 181.4l2.9 5h-5.8zM526.8 180.7l2.9 5h-5.8zM527 174.2l2.9 5h-5.8zM527 174.3l2.9 5h-5.8zM527.1 173.1l2.9 5h-5.8zM527.2 173.1l2.9 5h-5.8zM527.2 171.7l2.9 5h-5.8zM527.3 171.4l2.9 5h-5.8zM527.4 169.9l2.9 5h-5.8zM527.5 169.6l2.9 5h-5.8zM527.6 168.1l2.9 5h-5.8zM527.6 167.8l2.9 5h-5.8zM527.7 166.3l2.9 5h-5.8zM527.8 166.1l2.9 5h-5.8zM527.9 164.7l2.9 5h-5.8zM527.9 164.5l2.9 5h-5.8zM528 163.1l2.9 5h-5.8zM528.1 162.9l2.9 5h-5.8zM528.2 161.4l2.9 5h-5.8zM528.2 161.2l2.9 5h-5.8zM528.3 159.8l2.9 5h-5.8zM528.4 159.6l2.9 5h-5.8zM528.5 158.3l2.9 5h-5.8zM528.6 158.1l2.9 5h-5.8zM528.7 156.8l2.9 5h-5.8zM528.9 156.6l2.9 5h-5.8zM529 155.1l2.9 5h-5.8zM529.2 155l2.9 5h-5.8zM529.4 153.6l2.9 5h-5.8zM529.6 153.5l2.9 5h-5.8zM529.8 152.1l2.9 5h-5.8zM530 152l2.9 5h-5.8zM530.2 150.7l2.9 5h-5.8zM530.4 150.6l2.9 5h-5.8zM530.6 149.2l2.9 5h-5.8zM530.8 149l2.9 5h-5.8zM531 147.7l2.9 5h-5.8zM531.2 147.6l2.9 5h-5.8zM531.4 146.2l2.9 5h-5.8zM531.7 146.1l2.9 5h-5.8zM531.9 144.7l2.9 5h-5.8zM532.1 144.6l2.9 5h-5.8zM532.3 143.2l2.9 5h-5.8zM532.6 143l2.9 5h-5.8zM532.8 141.6l2.9 5h-5.8zM533.1 141.4l2.9 5h-5.8zM533.4 140.1l2.9 5h-5.8zM533.6 139.9l2.9 5h-5.8zM533.9 138.6l2.9 5h-5.8zM534.1 138.6l2.9 5h-5.8zM534.5 137.1l2.9 5h-5.8zM534.9 136.9l2.9 5h-5.8zM535.3 135.6l2.9 5h-5.8zM535.7 135.6l2.9 5h-5.8zM535.9 134.6l2.9 5h-5.8z" fill="#8064a2"/>
<path d="M-3.6 -14.9 H3.6 V-7.5 H7.6 L0 0 L-7.6 -7.5 H-3.6 Z" transform="translate(84.5 111.2) rotate(0)" fill="#fff" stroke="#2e5a8a" stroke-width="1.85" stroke-linejoin="miter"/><path d="M-3.6 -14.9 H3.6 V-7.5 H7.6 L0 0 L-7.6 -7.5 H-3.6 Z" transform="translate(190.5 182.2) rotate(-43)" fill="#fff" stroke="#2e5a8a" stroke-width="1.85" stroke-linejoin="miter"/><path d="M-3.6 -14.9 H3.6 V-7.5 H7.6 L0 0 L-7.6 -7.5 H-3.6 Z" transform="translate(161.6 264.5) rotate(-43)" fill="#fff" stroke="#2e5a8a" stroke-width="1.85" stroke-linejoin="miter"/>
<path d="M155.3 86.2h4.2v4.2h-4.2z" fill="#4a7fc2"/><path d="M157.4 101.1l2.7 2.7-2.7 2.7-2.7-2.7 z" fill="#c94a48"/><path d="M157.4 119.3h0" stroke="#9abb56" stroke-width="4.3" stroke-linecap="round"/><path d="M157.4 132.6l2.9 5h-5.8z" fill="#8064a2"/><path d="M555.5 90.5h4.2v4.2h-4.2z" fill="#4a7fc2"/><path d="M557.6 105.6l2.7 2.7-2.7 2.7-2.7-2.7 z" fill="#c94a48"/><path d="M557.6 124h0" stroke="#9abb56" stroke-width="4.3" stroke-linecap="round"/><path d="M557.6 137.5l2.9 5h-5.8z" fill="#8064a2"/>
<text x="57.97" y="16" font-size="17.5" text-anchor="start" textLength="19.99" lengthAdjust="spacingAndGlyphs" class="tt">(a)</text><text x="85.44" y="16" font-size="17.5" text-anchor="start" textLength="48.58" lengthAdjust="spacingAndGlyphs" class="tt">1.5mL</text><text x="141.01" y="16" font-size="17.5" text-anchor="start" textLength="112.49" lengthAdjust="spacingAndGlyphs" class="tt">concentration</text><text x="262.06" y="16" font-size="17.5" text-anchor="start" textLength="50.88" lengthAdjust="spacingAndGlyphs" class="tt">device</text><text x="415.03" y="16" font-size="17.5" text-anchor="start" textLength="20.97" lengthAdjust="spacingAndGlyphs" class="tt">(b)</text><text x="441.91" y="16" font-size="17.5" text-anchor="start" textLength="34.07" lengthAdjust="spacingAndGlyphs" class="tt">5mL</text><text x="480.97" y="16" font-size="17.5" text-anchor="start" textLength="114.53" lengthAdjust="spacingAndGlyphs" class="tt">concentration</text><text x="604.06" y="16" font-size="17.5" text-anchor="start" textLength="50.88" lengthAdjust="spacingAndGlyphs" class="tt">device</text><text x="122.4" y="38.2" font-size="17.4" text-anchor="start">(</text><text x="131.53" y="40.5" font-size="17.5" text-anchor="start" textLength="44.84" lengthAdjust="spacingAndGlyphs" class="tt">water</text><text x="181.6" y="40.5" font-size="17.5" text-anchor="start" style="font-size:18.5px" class="tt">:</text><text x="190.06" y="40.5" font-size="17.5" text-anchor="start" textLength="49.89" lengthAdjust="spacingAndGlyphs" class="tt">0.1mL</text><text x="242.3" y="38.2" font-size="17.4" text-anchor="start">)</text><text x="479.8" y="38.2" font-size="17.4" text-anchor="start">(</text><text x="488.54" y="40.5" font-size="17.5" text-anchor="start" textLength="45.86" lengthAdjust="spacingAndGlyphs" class="tt">water</text><text x="537.8" y="40.5" font-size="17.5" text-anchor="start" style="font-size:18.5px" class="tt">:</text><text x="547.97" y="40.5" font-size="17.5" text-anchor="start" textLength="33.96" lengthAdjust="spacingAndGlyphs" class="tt">1mL</text><text x="584.2" y="38.2" font-size="17.4" text-anchor="start">)</text><text x="46.9" y="357.4" font-size="13.8" text-anchor="end">0</text><text x="402.2" y="357.4" font-size="13.8" text-anchor="end">0</text><text x="46.9" y="327.3" font-size="13.8" text-anchor="end">10</text><text x="402.2" y="327.3" font-size="13.8" text-anchor="end">10</text><text x="46.9" y="297.2" font-size="13.8" text-anchor="end">20</text><text x="402.2" y="297.2" font-size="13.8" text-anchor="end">20</text><text x="46.9" y="267.1" font-size="13.8" text-anchor="end">30</text><text x="402.2" y="267.1" font-size="13.8" text-anchor="end">30</text><text x="46.9" y="237" font-size="13.8" text-anchor="end">40</text><text x="402.2" y="237" font-size="13.8" text-anchor="end">40</text><text x="46.9" y="206.8" font-size="13.8" text-anchor="end">50</text><text x="402.2" y="206.8" font-size="13.8" text-anchor="end">50</text><text x="46.9" y="176.7" font-size="13.8" text-anchor="end">60</text><text x="402.2" y="176.7" font-size="13.8" text-anchor="end">60</text><text x="46.9" y="146.6" font-size="13.8" text-anchor="end">70</text><text x="402.2" y="146.6" font-size="13.8" text-anchor="end">70</text><text x="46.9" y="116.5" font-size="13.8" text-anchor="end">80</text><text x="402.2" y="116.5" font-size="13.8" text-anchor="end">80</text><text x="46.9" y="86.4" font-size="13.8" text-anchor="end">90</text><text x="402.2" y="86.4" font-size="13.8" text-anchor="end">90</text><text x="56.8" y="374.1" font-size="13.8" text-anchor="middle">0.0</text><text x="124.7" y="374.1" font-size="13.8" text-anchor="middle">3.0</text><text x="192.0" y="374.1" font-size="13.8" text-anchor="middle">6.0</text><text x="260.5" y="374.1" font-size="13.8" text-anchor="middle">9.0</text><text x="328.5" y="374.1" font-size="13.8" text-anchor="middle">12.0</text><text x="414.2" y="374.1" font-size="13.8" text-anchor="middle">0</text><text x="479.4" y="374.1" font-size="13.8" text-anchor="middle">30</text><text x="544.2" y="374.1" font-size="13.8" text-anchor="middle">60</text><text x="609.0" y="374.1" font-size="13.8" text-anchor="middle">90</text><text x="674.2" y="374.1" font-size="13.8" text-anchor="middle">120</text><text x="146.57" y="401.3" font-size="15.5" text-anchor="start" textLength="77.49" lengthAdjust="spacingAndGlyphs">Time [min]</text><text x="494.59" y="405.6" font-size="15.5" text-anchor="start" textLength="75.91" lengthAdjust="spacingAndGlyphs">Time [min]</text><text x="0" y="0" font-size="18" textLength="190.5" class="ts" lengthAdjust="spacingAndGlyphs" transform="translate(15.3 319) rotate(-90)">Liquid temperature [°C]</text><text x="0" y="0" font-size="18" textLength="190.5" class="ts" lengthAdjust="spacingAndGlyphs" transform="translate(373.4 318.4) rotate(-90)">Liquid temperature [°C]</text><text x="164.4" y="91.9" font-size="11.2" text-anchor="start" textLength="81.2" lengthAdjust="spacingAndGlyphs" class="ts">Heating T=25 °C</text><text x="164.4" y="107.4" font-size="11.2" text-anchor="start" textLength="81.2" lengthAdjust="spacingAndGlyphs" class="ts">Heating T=40 °C</text><text x="164.4" y="122.9" font-size="11.2" text-anchor="start" textLength="81.2" lengthAdjust="spacingAndGlyphs" class="ts">Heating T=60 °C</text><text x="164.4" y="138.4" font-size="11.2" text-anchor="start" textLength="81.2" lengthAdjust="spacingAndGlyphs" class="ts">Heating T=80 °C</text><text x="564.6" y="96.2" font-size="11.2" text-anchor="start" textLength="81.2" lengthAdjust="spacingAndGlyphs" class="ts">Heating T=25 °C</text><text x="564.6" y="111.9" font-size="11.2" text-anchor="start" textLength="81.2" lengthAdjust="spacingAndGlyphs" class="ts">Heating T=40 °C</text><text x="564.6" y="127.6" font-size="11.2" text-anchor="start" textLength="81.2" lengthAdjust="spacingAndGlyphs" class="ts">Heating T=60 °C</text><text x="564.6" y="143.3" font-size="11.2" text-anchor="start" textLength="81.2" lengthAdjust="spacingAndGlyphs" class="ts">Heating T=80 °C</text><text x="64.09" y="91.8" font-size="11.6" text-anchor="start" textLength="28.82" lengthAdjust="spacingAndGlyphs" class="ts">Pump</text><text x="94.6" y="91.8" font-size="11.6" text-anchor="start" class="ts">:</text><text x="102.52" y="91.8" font-size="11.6" text-anchor="start" textLength="15.4" lengthAdjust="spacingAndGlyphs" class="ts">On</text><text x="142.09" y="164.9" font-size="11.6" text-anchor="start" textLength="28.82" lengthAdjust="spacingAndGlyphs" class="ts">Pump</text><text x="172.6" y="164.9" font-size="11.6" text-anchor="start" class="ts">:</text><text x="180.54" y="164.9" font-size="11.6" text-anchor="start" textLength="15.88" lengthAdjust="spacingAndGlyphs" class="ts">Off</text><text x="128.99" y="245.8" font-size="11.6" text-anchor="start" textLength="27.47" lengthAdjust="spacingAndGlyphs" class="ts">Dried</text>
</svg>
</body></html>
